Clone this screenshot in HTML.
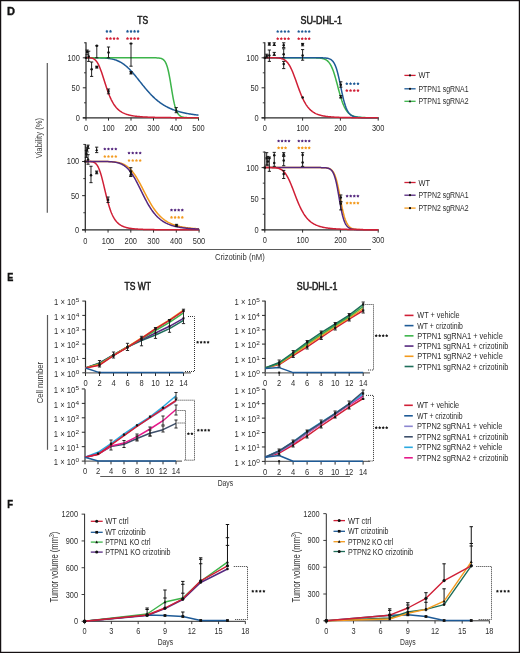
<!DOCTYPE html>
<html><head><meta charset="utf-8"><style>
html,body{margin:0;padding:0;background:#fff;width:520px;height:653px;overflow:hidden}
svg{display:block;font-family:"Liberation Sans", sans-serif;will-change:transform}
</style></head><body>
<svg width="520" height="653" viewBox="0 0 520 653">
<rect width="520" height="653" fill="#fff"/>
<rect x="0.6" y="0.6" width="518.8" height="651.8" fill="none" stroke="#151012" stroke-width="1.25"/>
<text x="7" y="14.9" font-size="10.6" font-weight="bold" fill="#111" textLength="8" lengthAdjust="spacingAndGlyphs" stroke="#111" stroke-width="0.35">D</text>
<text x="7.2" y="280.8" font-size="10.8" font-weight="bold" fill="#111" textLength="6.1" lengthAdjust="spacingAndGlyphs" stroke="#111" stroke-width="0.35">E</text>
<text x="7.2" y="507.9" font-size="10.6" font-weight="bold" fill="#111" textLength="5.8" lengthAdjust="spacingAndGlyphs" stroke="#111" stroke-width="0.35">F</text>
<line x1="86" y1="42.2" x2="86" y2="118.4" stroke="#2b2b2b" stroke-width="1.25" />
<line x1="82.8" y1="117.8" x2="199" y2="117.8" stroke="#2b2b2b" stroke-width="1.25" />
<line x1="82.8" y1="117.8" x2="86" y2="117.8" stroke="#2b2b2b" stroke-width="1.0" />
<text x="79.9" y="120.7" font-size="8.4" text-anchor="end" fill="#2e2e2e" textLength="4.15" lengthAdjust="spacingAndGlyphs" >0</text>
<line x1="82.8" y1="87.8" x2="86" y2="87.8" stroke="#2b2b2b" stroke-width="1.0" />
<text x="79.9" y="90.7" font-size="8.4" text-anchor="end" fill="#2e2e2e" textLength="8.3" lengthAdjust="spacingAndGlyphs" >50</text>
<line x1="82.8" y1="57.8" x2="86" y2="57.8" stroke="#2b2b2b" stroke-width="1.0" />
<text x="79.9" y="60.7" font-size="8.4" text-anchor="end" fill="#2e2e2e" textLength="12.45" lengthAdjust="spacingAndGlyphs" >100</text>
<line x1="84" y1="102.8" x2="86" y2="102.8" stroke="#2b2b2b" stroke-width="0.9" />
<line x1="84" y1="72.8" x2="86" y2="72.8" stroke="#2b2b2b" stroke-width="0.9" />
<line x1="84" y1="42.8" x2="86" y2="42.8" stroke="#2b2b2b" stroke-width="0.9" />
<line x1="86" y1="117.8" x2="86" y2="120.6" stroke="#2b2b2b" stroke-width="1.0" />
<text x="86" y="130.7" font-size="8.4" text-anchor="middle" fill="#2e2e2e" textLength="4.15" lengthAdjust="spacingAndGlyphs" >0</text>
<line x1="108.5" y1="117.8" x2="108.5" y2="120.6" stroke="#2b2b2b" stroke-width="1.0" />
<text x="108.5" y="130.7" font-size="8.4" text-anchor="middle" fill="#2e2e2e" textLength="12.45" lengthAdjust="spacingAndGlyphs" >100</text>
<line x1="131" y1="117.8" x2="131" y2="120.6" stroke="#2b2b2b" stroke-width="1.0" />
<text x="131" y="130.7" font-size="8.4" text-anchor="middle" fill="#2e2e2e" textLength="12.45" lengthAdjust="spacingAndGlyphs" >200</text>
<line x1="153.5" y1="117.8" x2="153.5" y2="120.6" stroke="#2b2b2b" stroke-width="1.0" />
<text x="153.5" y="130.7" font-size="8.4" text-anchor="middle" fill="#2e2e2e" textLength="12.45" lengthAdjust="spacingAndGlyphs" >300</text>
<line x1="176" y1="117.8" x2="176" y2="120.6" stroke="#2b2b2b" stroke-width="1.0" />
<text x="176" y="130.7" font-size="8.4" text-anchor="middle" fill="#2e2e2e" textLength="12.45" lengthAdjust="spacingAndGlyphs" >400</text>
<line x1="198.5" y1="117.8" x2="198.5" y2="120.6" stroke="#2b2b2b" stroke-width="1.0" />
<text x="198.5" y="130.7" font-size="8.4" text-anchor="middle" fill="#2e2e2e" textLength="12.45" lengthAdjust="spacingAndGlyphs" >500</text>
<polyline points="86,57.8 86.56,57.8 87.12,57.8 87.69,57.8 88.25,57.8 88.81,57.8 89.38,57.8 89.94,57.8 90.5,57.8 91.06,57.8 91.62,57.8 92.19,57.8 92.75,57.8 93.31,57.8 93.88,57.8 94.44,57.81 95,57.81 95.56,57.81 96.12,57.81 96.69,57.82 97.25,57.82 97.81,57.83 98.38,57.84 98.94,57.84 99.5,57.85 100.06,57.87 100.62,57.88 101.19,57.9 101.75,57.91 102.31,57.93 102.88,57.96 103.44,57.98 104,58.01 104.56,58.05 105.12,58.08 105.69,58.13 106.25,58.17 106.81,58.22 107.38,58.28 107.94,58.34 108.5,58.41 109.06,58.49 109.62,58.57 110.19,58.66 110.75,58.76 111.31,58.86 111.88,58.98 112.44,59.1 113,59.23 113.56,59.38 114.12,59.53 114.69,59.7 115.25,59.88 115.81,60.06 116.38,60.27 116.94,60.48 117.5,60.71 118.06,60.95 118.62,61.21 119.19,61.48 119.75,61.76 120.31,62.06 120.88,62.38 121.44,62.71 122,63.06 122.56,63.42 123.12,63.8 123.69,64.2 124.25,64.62 124.81,65.05 125.38,65.49 125.94,65.96 126.5,66.44 127.06,66.93 127.62,67.44 128.19,67.97 128.75,68.51 129.31,69.07 129.88,69.64 130.44,70.23 131,70.83 131.56,71.44 132.12,72.06 132.69,72.7 133.25,73.34 133.81,74 134.38,74.66 134.94,75.34 135.5,76.02 136.06,76.71 136.62,77.4 137.19,78.1 137.75,78.8 138.31,79.51 138.88,80.22 139.44,80.93 140,81.64 140.56,82.35 141.12,83.06 141.69,83.77 142.25,84.47 142.81,85.18 143.38,85.87 143.94,86.57 144.5,87.25 145.06,87.94 145.62,88.61 146.19,89.28 146.75,89.94 147.31,90.59 147.88,91.24 148.44,91.87 149,92.5 149.56,93.11 150.12,93.72 150.69,94.31 151.25,94.9 151.81,95.47 152.38,96.04 152.94,96.59 153.5,97.13 154.06,97.66 154.62,98.18 155.19,98.69 155.75,99.19 156.31,99.67 156.88,100.15 157.44,100.61 158,101.07 158.56,101.51 159.12,101.94 159.69,102.36 160.25,102.77 160.81,103.17 161.38,103.56 161.94,103.94 162.5,104.31 163.06,104.67 163.62,105.02 164.19,105.36 164.75,105.7 165.31,106.02 165.88,106.33 166.44,106.64 167,106.94 167.56,107.23 168.12,107.51 168.69,107.78 169.25,108.05 169.81,108.31 170.38,108.56 170.94,108.8 171.5,109.04 172.06,109.27 172.62,109.49 173.19,109.71 173.75,109.92 174.31,110.13 174.88,110.33 175.44,110.52 176,110.71 176.56,110.89 177.12,111.07 177.69,111.24 178.25,111.41 178.81,111.57 179.38,111.73 179.94,111.89 180.5,112.04 181.06,112.18 181.62,112.32 182.19,112.46 182.75,112.59 183.31,112.72 183.88,112.85 184.44,112.97 185,113.09 185.56,113.2 186.12,113.32 186.69,113.43 187.25,113.53 187.81,113.63 188.38,113.73 188.94,113.83 189.5,113.93 190.06,114.02 190.62,114.11 191.19,114.2 191.75,114.28 192.31,114.36 192.88,114.44 193.44,114.52 194,114.6 194.56,114.67 195.12,114.74 195.69,114.81 196.25,114.88 196.81,114.95 197.38,115.01 197.94,115.08 198.5,115.14" fill="none" stroke="#1e5a96" stroke-width="1.5" stroke-linejoin="round" />
<polyline points="86,57.8 86.56,57.8 87.12,57.8 87.69,57.8 88.25,57.8 88.81,57.8 89.38,57.8 89.94,57.8 90.5,57.8 91.06,57.8 91.62,57.8 92.19,57.8 92.75,57.8 93.31,57.8 93.88,57.8 94.44,57.8 95,57.8 95.56,57.8 96.12,57.8 96.69,57.8 97.25,57.8 97.81,57.8 98.38,57.8 98.94,57.8 99.5,57.8 100.06,57.8 100.62,57.8 101.19,57.8 101.75,57.8 102.31,57.8 102.88,57.8 103.44,57.8 104,57.8 104.56,57.8 105.12,57.8 105.69,57.8 106.25,57.8 106.81,57.8 107.38,57.8 107.94,57.8 108.5,57.8 109.06,57.8 109.62,57.8 110.19,57.8 110.75,57.8 111.31,57.8 111.88,57.8 112.44,57.8 113,57.8 113.56,57.8 114.12,57.8 114.69,57.8 115.25,57.8 115.81,57.8 116.38,57.8 116.94,57.8 117.5,57.8 118.06,57.8 118.62,57.8 119.19,57.8 119.75,57.8 120.31,57.8 120.88,57.8 121.44,57.8 122,57.8 122.56,57.8 123.12,57.8 123.69,57.8 124.25,57.8 124.81,57.8 125.38,57.8 125.94,57.8 126.5,57.8 127.06,57.8 127.62,57.8 128.19,57.8 128.75,57.8 129.31,57.8 129.88,57.8 130.44,57.8 131,57.8 131.56,57.8 132.12,57.8 132.69,57.8 133.25,57.8 133.81,57.8 134.38,57.8 134.94,57.8 135.5,57.8 136.06,57.8 136.62,57.8 137.19,57.8 137.75,57.8 138.31,57.8 138.88,57.8 139.44,57.8 140,57.8 140.56,57.8 141.12,57.8 141.69,57.8 142.25,57.8 142.81,57.8 143.38,57.8 143.94,57.8 144.5,57.8 145.06,57.8 145.62,57.8 146.19,57.8 146.75,57.8 147.31,57.8 147.88,57.8 148.44,57.8 149,57.8 149.56,57.8 150.12,57.8 150.69,57.8 151.25,57.8 151.81,57.81 152.38,57.81 152.94,57.81 153.5,57.82 154.06,57.82 154.62,57.83 155.19,57.84 155.75,57.85 156.31,57.87 156.88,57.89 157.44,57.92 158,57.95 158.56,58 159.12,58.06 159.69,58.14 160.25,58.25 160.81,58.38 161.38,58.55 161.94,58.77 162.5,59.05 163.06,59.41 163.62,59.86 164.19,60.43 164.75,61.14 165.31,62.01 165.88,63.09 166.44,64.4 167,65.98 167.56,67.84 168.12,70.02 168.69,72.51 169.25,75.3 169.81,78.36 170.38,81.63 170.94,85.03 171.5,88.49 172.06,91.91 172.62,95.2 173.19,98.29 173.75,101.13 174.31,103.68 174.88,105.94 175.44,107.9 176,109.59 176.56,111.01 177.12,112.21 177.69,113.21 178.25,114.04 178.81,114.72 179.38,115.29 179.94,115.75 180.5,116.12 181.06,116.43 181.62,116.68 182.19,116.89 182.75,117.05 183.31,117.19 183.88,117.3 184.44,117.39 185,117.46 185.56,117.52 186.12,117.57 186.69,117.61 187.25,117.65 187.81,117.67 188.38,117.7 188.94,117.71 189.5,117.73 190.06,117.74 190.62,117.75 191.19,117.76 191.75,117.77 192.31,117.77 192.88,117.78 193.44,117.78 194,117.78 194.56,117.79 195.12,117.79 195.69,117.79 196.25,117.79 196.81,117.79 197.38,117.79 197.94,117.8 198.5,117.8" fill="none" stroke="#3cb44a" stroke-width="1.5" stroke-linejoin="round" />
<polyline points="86,57.8 86.56,57.8 87.12,57.8 87.69,57.8 88.25,57.81 88.81,57.82 89.38,57.84 89.94,57.87 90.5,57.92 91.06,57.99 91.62,58.09 92.19,58.23 92.75,58.41 93.31,58.65 93.88,58.94 94.44,59.31 95,59.75 95.56,60.28 96.12,60.9 96.69,61.62 97.25,62.45 97.81,63.38 98.38,64.42 98.94,65.57 99.5,66.83 100.06,68.19 100.62,69.65 101.19,71.19 101.75,72.81 102.31,74.48 102.88,76.21 103.44,77.96 104,79.74 104.56,81.53 105.12,83.3 105.69,85.06 106.25,86.78 106.81,88.47 107.38,90.1 107.94,91.68 108.5,93.2 109.06,94.66 109.62,96.05 110.19,97.37 110.75,98.62 111.31,99.8 111.88,100.91 112.44,101.96 113,102.95 113.56,103.87 114.12,104.74 114.69,105.55 115.25,106.31 115.81,107.01 116.38,107.68 116.94,108.29 117.5,108.87 118.06,109.41 118.62,109.91 119.19,110.38 119.75,110.81 120.31,111.22 120.88,111.6 121.44,111.96 122,112.29 122.56,112.6 123.12,112.89 123.69,113.16 124.25,113.41 124.81,113.65 125.38,113.87 125.94,114.08 126.5,114.28 127.06,114.46 127.62,114.63 128.19,114.79 128.75,114.94 129.31,115.09 129.88,115.22 130.44,115.35 131,115.46 131.56,115.58 132.12,115.68 132.69,115.78 133.25,115.87 133.81,115.96 134.38,116.05 134.94,116.12 135.5,116.2 136.06,116.27 136.62,116.34 137.19,116.4 137.75,116.46 138.31,116.52 138.88,116.57 139.44,116.62 140,116.67 140.56,116.72 141.12,116.76 141.69,116.8 142.25,116.84 142.81,116.88 143.38,116.92 143.94,116.95 144.5,116.98 145.06,117.01 145.62,117.04 146.19,117.07 146.75,117.1 147.31,117.12 147.88,117.15 148.44,117.17 149,117.19 149.56,117.22 150.12,117.24 150.69,117.26 151.25,117.27 151.81,117.29 152.38,117.31 152.94,117.33 153.5,117.34 154.06,117.36 154.62,117.37 155.19,117.39 155.75,117.4 156.31,117.41 156.88,117.42 157.44,117.44 158,117.45 158.56,117.46 159.12,117.47 159.69,117.48 160.25,117.49 160.81,117.5 161.38,117.51 161.94,117.52 162.5,117.53 163.06,117.53 163.62,117.54 164.19,117.55 164.75,117.56 165.31,117.56 165.88,117.57 166.44,117.58 167,117.58 167.56,117.59 168.12,117.59 168.69,117.6 169.25,117.61 169.81,117.61 170.38,117.62 170.94,117.62 171.5,117.63 172.06,117.63 172.62,117.63 173.19,117.64 173.75,117.64 174.31,117.65 174.88,117.65 175.44,117.65 176,117.66 176.56,117.66 177.12,117.67 177.69,117.67 178.25,117.67 178.81,117.68 179.38,117.68 179.94,117.68 180.5,117.68 181.06,117.69 181.62,117.69 182.19,117.69 182.75,117.69 183.31,117.7 183.88,117.7 184.44,117.7 185,117.7 185.56,117.71 186.12,117.71 186.69,117.71 187.25,117.71 187.81,117.71 188.38,117.72 188.94,117.72 189.5,117.72 190.06,117.72 190.62,117.72 191.19,117.73 191.75,117.73 192.31,117.73 192.88,117.73 193.44,117.73 194,117.73 194.56,117.73 195.12,117.74 195.69,117.74 196.25,117.74 196.81,117.74 197.38,117.74 197.94,117.74 198.5,117.74" fill="none" stroke="#d01f36" stroke-width="1.5" stroke-linejoin="round" />
<rect x="84.85" y="56.65" width="2.3" height="2.3" fill="#111"/>
<line x1="87.12" y1="54.8" x2="87.12" y2="50" stroke="#151515" stroke-width="0.95" />
<line x1="85.53" y1="54.8" x2="88.72" y2="54.8" stroke="#151515" stroke-width="0.95" />
<line x1="85.53" y1="50" x2="88.72" y2="50" stroke="#151515" stroke-width="0.95" />
<rect x="85.97" y="50.65" width="2.3" height="2.3" fill="#111"/>
<line x1="88.7" y1="61.4" x2="88.7" y2="51.2" stroke="#151515" stroke-width="0.95" />
<line x1="87.1" y1="61.4" x2="90.3" y2="61.4" stroke="#151515" stroke-width="0.95" />
<line x1="87.1" y1="51.2" x2="90.3" y2="51.2" stroke="#151515" stroke-width="0.95" />
<circle cx="88.7" cy="56.6" r="1.25" fill="#111"/>
<line x1="91.62" y1="76.4" x2="91.62" y2="62" stroke="#151515" stroke-width="0.95" />
<line x1="90.03" y1="76.4" x2="93.22" y2="76.4" stroke="#151515" stroke-width="0.95" />
<line x1="90.03" y1="62" x2="93.22" y2="62" stroke="#151515" stroke-width="0.95" />
<circle cx="91.62" cy="69.2" r="1.25" fill="#111"/>
<line x1="96.8" y1="68" x2="96.8" y2="66.2" stroke="#151515" stroke-width="0.95" />
<line x1="95.2" y1="68" x2="98.4" y2="68" stroke="#151515" stroke-width="0.95" />
<line x1="95.2" y1="66.2" x2="98.4" y2="66.2" stroke="#151515" stroke-width="0.95" />
<rect x="95.65" y="65.95" width="2.3" height="2.3" fill="#111"/>
<line x1="96.8" y1="57.8" x2="96.8" y2="45.8" stroke="#151515" stroke-width="0.95" />
<line x1="95.2" y1="57.8" x2="98.4" y2="57.8" stroke="#151515" stroke-width="0.95" />
<line x1="95.2" y1="45.8" x2="98.4" y2="45.8" stroke="#151515" stroke-width="0.95" />
<circle cx="96.8" cy="45.8" r="1.25" fill="#111"/>
<line x1="108.5" y1="57.8" x2="108.5" y2="47" stroke="#151515" stroke-width="0.95" />
<line x1="106.9" y1="57.8" x2="110.1" y2="57.8" stroke="#151515" stroke-width="0.95" />
<line x1="106.9" y1="47" x2="110.1" y2="47" stroke="#151515" stroke-width="0.95" />
<circle cx="108.5" cy="52.4" r="1.25" fill="#111"/>
<line x1="108.5" y1="93.8" x2="108.5" y2="89" stroke="#151515" stroke-width="0.95" />
<line x1="106.9" y1="93.8" x2="110.1" y2="93.8" stroke="#151515" stroke-width="0.95" />
<line x1="106.9" y1="89" x2="110.1" y2="89" stroke="#151515" stroke-width="0.95" />
<rect x="107.35" y="90.25" width="2.3" height="2.3" fill="#111"/>
<line x1="131" y1="74" x2="131" y2="71.6" stroke="#151515" stroke-width="0.95" />
<line x1="129.4" y1="74" x2="132.6" y2="74" stroke="#151515" stroke-width="0.95" />
<line x1="129.4" y1="71.6" x2="132.6" y2="71.6" stroke="#151515" stroke-width="0.95" />
<rect x="129.85" y="71.65" width="2.3" height="2.3" fill="#111"/>
<line x1="131" y1="66.2" x2="131" y2="43.4" stroke="#151515" stroke-width="0.95" />
<line x1="129.4" y1="66.2" x2="132.6" y2="66.2" stroke="#151515" stroke-width="0.95" />
<line x1="129.4" y1="43.4" x2="132.6" y2="43.4" stroke="#151515" stroke-width="0.95" />
<polygon points="131,41.72 129.6,44.52 132.4,44.52" fill="#111"/>
<line x1="176.23" y1="112.7" x2="176.23" y2="107.6" stroke="#151515" stroke-width="0.95" />
<line x1="174.63" y1="112.7" x2="177.83" y2="112.7" stroke="#151515" stroke-width="0.95" />
<line x1="174.63" y1="107.6" x2="177.83" y2="107.6" stroke="#151515" stroke-width="0.95" />
<polygon points="176.23,108.62 174.83,111.42 177.63,111.42" fill="#111"/>
<text x="142.7" y="24" font-size="10.1" text-anchor="middle" fill="#1e1e1e" textLength="10.8" lengthAdjust="spacingAndGlyphs" stroke="#1e1e1e" stroke-width="0.55">TS</text>
<polygon points="106.9,29.8 107.48,30.6 108.42,30.91 107.84,31.71 107.84,32.69 106.9,32.39 105.96,32.69 105.96,31.71 105.38,30.91 106.32,30.6" fill="#1e5a96"/>
<polygon points="110.5,29.8 111.08,30.6 112.02,30.91 111.44,31.71 111.44,32.69 110.5,32.39 109.56,32.69 109.56,31.71 108.98,30.91 109.92,30.6" fill="#1e5a96"/>
<polygon points="127.5,29.8 128.08,30.6 129.02,30.91 128.44,31.71 128.44,32.69 127.5,32.39 126.56,32.69 126.56,31.71 125.98,30.91 126.92,30.6" fill="#1e5a96"/>
<polygon points="131.03,29.8 131.61,30.6 132.55,30.91 131.97,31.71 131.97,32.69 131.03,32.39 130.09,32.69 130.09,31.71 129.51,30.91 130.45,30.6" fill="#1e5a96"/>
<polygon points="134.56,29.8 135.14,30.6 136.08,30.91 135.5,31.71 135.5,32.69 134.56,32.39 133.62,32.69 133.62,31.71 133.04,30.91 133.98,30.6" fill="#1e5a96"/>
<polygon points="138.09,29.8 138.67,30.6 139.61,30.91 139.03,31.71 139.03,32.69 138.09,32.39 137.15,32.69 137.15,31.71 136.57,30.91 137.51,30.6" fill="#1e5a96"/>
<polygon points="106.9,37 107.48,37.8 108.42,38.11 107.84,38.91 107.84,39.89 106.9,39.59 105.96,39.89 105.96,38.91 105.38,38.11 106.32,37.8" fill="#d01f36"/>
<polygon points="110.47,37 111.05,37.8 111.99,38.11 111.41,38.91 111.41,39.89 110.47,39.59 109.53,39.89 109.53,38.91 108.95,38.11 109.89,37.8" fill="#d01f36"/>
<polygon points="114.04,37 114.62,37.8 115.56,38.11 114.98,38.91 114.98,39.89 114.04,39.59 113.1,39.89 113.1,38.91 112.52,38.11 113.46,37.8" fill="#d01f36"/>
<polygon points="117.61,37 118.19,37.8 119.13,38.11 118.55,38.91 118.55,39.89 117.61,39.59 116.67,39.89 116.67,38.91 116.09,38.11 117.03,37.8" fill="#d01f36"/>
<polygon points="127.5,37 128.08,37.8 129.02,38.11 128.44,38.91 128.44,39.89 127.5,39.59 126.56,39.89 126.56,38.91 125.98,38.11 126.92,37.8" fill="#d01f36"/>
<polygon points="131.03,37 131.61,37.8 132.55,38.11 131.97,38.91 131.97,39.89 131.03,39.59 130.09,39.89 130.09,38.91 129.51,38.11 130.45,37.8" fill="#d01f36"/>
<polygon points="134.56,37 135.14,37.8 136.08,38.11 135.5,38.91 135.5,39.89 134.56,39.59 133.62,39.89 133.62,38.91 133.04,38.11 133.98,37.8" fill="#d01f36"/>
<polygon points="138.09,37 138.67,37.8 139.61,38.11 139.03,38.91 139.03,39.89 138.09,39.59 137.15,39.89 137.15,38.91 136.57,38.11 137.51,37.8" fill="#d01f36"/>
<line x1="264.8" y1="42.2" x2="264.8" y2="118.4" stroke="#2b2b2b" stroke-width="1.25" />
<line x1="261.6" y1="117.8" x2="378.7" y2="117.8" stroke="#2b2b2b" stroke-width="1.25" />
<line x1="261.6" y1="117.8" x2="264.8" y2="117.8" stroke="#2b2b2b" stroke-width="1.0" />
<text x="258.7" y="120.7" font-size="8.4" text-anchor="end" fill="#2e2e2e" textLength="4.15" lengthAdjust="spacingAndGlyphs" >0</text>
<line x1="261.6" y1="87.8" x2="264.8" y2="87.8" stroke="#2b2b2b" stroke-width="1.0" />
<text x="258.7" y="90.7" font-size="8.4" text-anchor="end" fill="#2e2e2e" textLength="8.3" lengthAdjust="spacingAndGlyphs" >50</text>
<line x1="261.6" y1="57.8" x2="264.8" y2="57.8" stroke="#2b2b2b" stroke-width="1.0" />
<text x="258.7" y="60.7" font-size="8.4" text-anchor="end" fill="#2e2e2e" textLength="12.45" lengthAdjust="spacingAndGlyphs" >100</text>
<line x1="262.8" y1="102.8" x2="264.8" y2="102.8" stroke="#2b2b2b" stroke-width="0.9" />
<line x1="262.8" y1="72.8" x2="264.8" y2="72.8" stroke="#2b2b2b" stroke-width="0.9" />
<line x1="262.8" y1="42.8" x2="264.8" y2="42.8" stroke="#2b2b2b" stroke-width="0.9" />
<line x1="264.8" y1="117.8" x2="264.8" y2="120.6" stroke="#2b2b2b" stroke-width="1.0" />
<text x="264.8" y="130.7" font-size="8.4" text-anchor="middle" fill="#2e2e2e" textLength="4.15" lengthAdjust="spacingAndGlyphs" >0</text>
<line x1="302.6" y1="117.8" x2="302.6" y2="120.6" stroke="#2b2b2b" stroke-width="1.0" />
<text x="302.6" y="130.7" font-size="8.4" text-anchor="middle" fill="#2e2e2e" textLength="12.45" lengthAdjust="spacingAndGlyphs" >100</text>
<line x1="340.4" y1="117.8" x2="340.4" y2="120.6" stroke="#2b2b2b" stroke-width="1.0" />
<text x="340.4" y="130.7" font-size="8.4" text-anchor="middle" fill="#2e2e2e" textLength="12.45" lengthAdjust="spacingAndGlyphs" >200</text>
<line x1="378.2" y1="117.8" x2="378.2" y2="120.6" stroke="#2b2b2b" stroke-width="1.0" />
<text x="378.2" y="130.7" font-size="8.4" text-anchor="middle" fill="#2e2e2e" textLength="12.45" lengthAdjust="spacingAndGlyphs" >300</text>
<polyline points="264.8,57.8 265.37,57.8 265.93,57.8 266.5,57.8 267.07,57.8 267.63,57.8 268.2,57.8 268.77,57.8 269.34,57.8 269.9,57.8 270.47,57.8 271.04,57.8 271.6,57.8 272.17,57.8 272.74,57.8 273.31,57.8 273.87,57.8 274.44,57.8 275.01,57.8 275.57,57.8 276.14,57.8 276.71,57.8 277.27,57.8 277.84,57.8 278.41,57.8 278.98,57.8 279.54,57.8 280.11,57.8 280.68,57.8 281.24,57.8 281.81,57.8 282.38,57.8 282.94,57.8 283.51,57.8 284.08,57.8 284.64,57.8 285.21,57.8 285.78,57.8 286.35,57.8 286.91,57.8 287.48,57.8 288.05,57.8 288.61,57.8 289.18,57.8 289.75,57.8 290.31,57.8 290.88,57.8 291.45,57.8 292.02,57.8 292.58,57.8 293.15,57.8 293.72,57.8 294.28,57.8 294.85,57.8 295.42,57.8 295.99,57.8 296.55,57.8 297.12,57.8 297.69,57.8 298.25,57.8 298.82,57.8 299.39,57.8 299.95,57.8 300.52,57.8 301.09,57.8 301.66,57.8 302.22,57.8 302.79,57.8 303.36,57.8 303.92,57.8 304.49,57.8 305.06,57.8 305.62,57.8 306.19,57.8 306.76,57.8 307.32,57.8 307.89,57.8 308.46,57.8 309.03,57.81 309.59,57.81 310.16,57.81 310.73,57.81 311.29,57.81 311.86,57.82 312.43,57.82 313,57.83 313.56,57.83 314.13,57.84 314.7,57.85 315.26,57.86 315.83,57.87 316.4,57.89 316.96,57.91 317.53,57.93 318.1,57.96 318.67,58 319.23,58.04 319.8,58.09 320.37,58.15 320.93,58.22 321.5,58.31 322.07,58.41 322.63,58.53 323.2,58.68 323.77,58.84 324.34,59.04 324.9,59.28 325.47,59.55 326.04,59.86 326.6,60.23 327.17,60.66 327.74,61.15 328.3,61.72 328.87,62.36 329.44,63.1 330,63.93 330.57,64.87 331.14,65.92 331.71,67.09 332.27,68.39 332.84,69.81 333.41,71.35 333.97,73.01 334.54,74.79 335.11,76.67 335.68,78.64 336.24,80.69 336.81,82.8 337.38,84.93 337.94,87.08 338.51,89.23 339.08,91.34 339.64,93.4 340.21,95.39 340.78,97.3 341.35,99.11 341.91,100.82 342.48,102.42 343.05,103.91 343.61,105.29 344.18,106.55 344.75,107.7 345.31,108.75 345.88,109.71 346.45,110.57 347.01,111.34 347.58,112.04 348.15,112.66 348.72,113.22 349.28,113.72 349.85,114.17 350.42,114.57 350.98,114.92 351.55,115.24 352.12,115.52 352.69,115.76 353.25,115.99 353.82,116.18 354.39,116.36 354.95,116.51 355.52,116.65 356.09,116.77 356.65,116.88 357.22,116.98 357.79,117.07 358.36,117.14 358.92,117.21 359.49,117.27 360.06,117.33 360.62,117.38 361.19,117.42 361.76,117.46 362.32,117.49 362.89,117.53 363.46,117.55 364.02,117.58 364.59,117.6 365.16,117.62 365.73,117.64 366.29,117.65 366.86,117.67 367.43,117.68 367.99,117.69 368.56,117.7 369.13,117.71 369.69,117.72 370.26,117.73 370.83,117.73 371.4,117.74 371.96,117.75 372.53,117.75 373.1,117.76 373.66,117.76 374.23,117.76 374.8,117.77 375.37,117.77 375.93,117.77 376.5,117.78 377.07,117.78 377.63,117.78 378.2,117.78" fill="none" stroke="#3cb44a" stroke-width="1.5" stroke-linejoin="round" />
<polyline points="264.8,57.8 265.37,57.8 265.93,57.8 266.5,57.8 267.07,57.8 267.63,57.8 268.2,57.8 268.77,57.8 269.34,57.8 269.9,57.8 270.47,57.8 271.04,57.8 271.6,57.8 272.17,57.8 272.74,57.8 273.31,57.8 273.87,57.8 274.44,57.8 275.01,57.8 275.57,57.8 276.14,57.8 276.71,57.8 277.27,57.8 277.84,57.8 278.41,57.8 278.98,57.8 279.54,57.8 280.11,57.8 280.68,57.8 281.24,57.8 281.81,57.8 282.38,57.8 282.94,57.8 283.51,57.8 284.08,57.8 284.64,57.8 285.21,57.8 285.78,57.8 286.35,57.8 286.91,57.8 287.48,57.8 288.05,57.8 288.61,57.8 289.18,57.8 289.75,57.8 290.31,57.8 290.88,57.8 291.45,57.8 292.02,57.8 292.58,57.8 293.15,57.8 293.72,57.8 294.28,57.8 294.85,57.8 295.42,57.8 295.99,57.8 296.55,57.8 297.12,57.8 297.69,57.8 298.25,57.8 298.82,57.8 299.39,57.8 299.95,57.8 300.52,57.8 301.09,57.8 301.66,57.8 302.22,57.8 302.79,57.8 303.36,57.8 303.92,57.8 304.49,57.8 305.06,57.8 305.62,57.8 306.19,57.8 306.76,57.8 307.32,57.8 307.89,57.8 308.46,57.8 309.03,57.8 309.59,57.8 310.16,57.8 310.73,57.8 311.29,57.8 311.86,57.8 312.43,57.8 313,57.8 313.56,57.8 314.13,57.8 314.7,57.8 315.26,57.8 315.83,57.8 316.4,57.8 316.96,57.81 317.53,57.81 318.1,57.81 318.67,57.81 319.23,57.82 319.8,57.82 320.37,57.83 320.93,57.83 321.5,57.84 322.07,57.85 322.63,57.87 323.2,57.89 323.77,57.91 324.34,57.94 324.9,57.98 325.47,58.02 326.04,58.08 326.6,58.15 327.17,58.24 327.74,58.34 328.3,58.48 328.87,58.64 329.44,58.84 330,59.08 330.57,59.38 331.14,59.74 331.71,60.17 332.27,60.7 332.84,61.32 333.41,62.06 333.97,62.93 334.54,63.96 335.11,65.15 335.68,66.52 336.24,68.09 336.81,69.85 337.38,71.82 337.94,73.98 338.51,76.32 339.08,78.81 339.64,81.43 340.21,84.14 340.78,86.88 341.35,89.62 341.91,92.32 342.48,94.92 343.05,97.39 343.61,99.71 344.18,101.86 344.75,103.82 345.31,105.6 345.88,107.19 346.45,108.61 347.01,109.85 347.58,110.95 348.15,111.9 348.72,112.73 349.28,113.45 349.85,114.07 350.42,114.6 350.98,115.06 351.55,115.45 352.12,115.79 352.69,116.08 353.25,116.32 353.82,116.53 354.39,116.71 354.95,116.87 355.52,117 356.09,117.11 356.65,117.21 357.22,117.29 357.79,117.36 358.36,117.42 358.92,117.47 359.49,117.52 360.06,117.56 360.62,117.59 361.19,117.62 361.76,117.64 362.32,117.66 362.89,117.68 363.46,117.7 364.02,117.71 364.59,117.72 365.16,117.73 365.73,117.74 366.29,117.75 366.86,117.76 367.43,117.76 367.99,117.77 368.56,117.77 369.13,117.77 369.69,117.78 370.26,117.78 370.83,117.78 371.4,117.78 371.96,117.79 372.53,117.79 373.1,117.79 373.66,117.79 374.23,117.79 374.8,117.79 375.37,117.79 375.93,117.79 376.5,117.8 377.07,117.8 377.63,117.8 378.2,117.8" fill="none" stroke="#1e5a96" stroke-width="1.5" stroke-linejoin="round" />
<polyline points="264.8,57.8 265.37,57.8 265.93,57.8 266.5,57.8 267.07,57.8 267.63,57.8 268.2,57.8 268.77,57.8 269.34,57.8 269.9,57.8 270.47,57.8 271.04,57.8 271.6,57.8 272.17,57.8 272.74,57.81 273.31,57.81 273.87,57.82 274.44,57.83 275.01,57.84 275.57,57.85 276.14,57.87 276.71,57.9 277.27,57.93 277.84,57.97 278.41,58.02 278.98,58.08 279.54,58.16 280.11,58.25 280.68,58.36 281.24,58.5 281.81,58.66 282.38,58.85 282.94,59.08 283.51,59.34 284.08,59.64 284.64,59.99 285.21,60.39 285.78,60.85 286.35,61.36 286.91,61.94 287.48,62.59 288.05,63.31 288.61,64.1 289.18,64.98 289.75,65.93 290.31,66.96 290.88,68.06 291.45,69.25 292.02,70.51 292.58,71.83 293.15,73.23 293.72,74.67 294.28,76.17 294.85,77.71 295.42,79.28 295.99,80.87 296.55,82.48 297.12,84.09 297.69,85.69 298.25,87.28 298.82,88.84 299.39,90.37 299.95,91.86 300.52,93.31 301.09,94.71 301.66,96.06 302.22,97.36 302.79,98.6 303.36,99.77 303.92,100.9 304.49,101.96 305.06,102.96 305.62,103.91 306.19,104.8 306.76,105.64 307.32,106.43 307.89,107.16 308.46,107.85 309.03,108.5 309.59,109.1 310.16,109.67 310.73,110.19 311.29,110.69 311.86,111.14 312.43,111.57 313,111.97 313.56,112.34 314.13,112.68 314.7,113.01 315.26,113.31 315.83,113.59 316.4,113.85 316.96,114.09 317.53,114.32 318.1,114.53 318.67,114.72 319.23,114.91 319.8,115.08 320.37,115.24 320.93,115.39 321.5,115.53 322.07,115.66 322.63,115.78 323.2,115.9 323.77,116.01 324.34,116.11 324.9,116.2 325.47,116.29 326.04,116.37 326.6,116.45 327.17,116.52 327.74,116.59 328.3,116.65 328.87,116.71 329.44,116.77 330,116.82 330.57,116.87 331.14,116.92 331.71,116.97 332.27,117.01 332.84,117.05 333.41,117.09 333.97,117.12 334.54,117.15 335.11,117.18 335.68,117.21 336.24,117.24 336.81,117.27 337.38,117.29 337.94,117.32 338.51,117.34 339.08,117.36 339.64,117.38 340.21,117.4 340.78,117.42 341.35,117.44 341.91,117.45 342.48,117.47 343.05,117.48 343.61,117.5 344.18,117.51 344.75,117.52 345.31,117.53 345.88,117.54 346.45,117.56 347.01,117.57 347.58,117.58 348.15,117.58 348.72,117.59 349.28,117.6 349.85,117.61 350.42,117.62 350.98,117.62 351.55,117.63 352.12,117.64 352.69,117.64 353.25,117.65 353.82,117.66 354.39,117.66 354.95,117.67 355.52,117.67 356.09,117.68 356.65,117.68 357.22,117.69 357.79,117.69 358.36,117.69 358.92,117.7 359.49,117.7 360.06,117.71 360.62,117.71 361.19,117.71 361.76,117.72 362.32,117.72 362.89,117.72 363.46,117.72 364.02,117.73 364.59,117.73 365.16,117.73 365.73,117.73 366.29,117.74 366.86,117.74 367.43,117.74 367.99,117.74 368.56,117.74 369.13,117.75 369.69,117.75 370.26,117.75 370.83,117.75 371.4,117.75 371.96,117.75 372.53,117.76 373.1,117.76 373.66,117.76 374.23,117.76 374.8,117.76 375.37,117.76 375.93,117.76 376.5,117.76 377.07,117.77 377.63,117.77 378.2,117.77" fill="none" stroke="#d01f36" stroke-width="1.5" stroke-linejoin="round" />
<rect x="263.65" y="56.65" width="2.3" height="2.3" fill="#111"/>
<line x1="266.69" y1="57.8" x2="266.69" y2="54.2" stroke="#151515" stroke-width="0.95" />
<line x1="265.09" y1="57.8" x2="268.29" y2="57.8" stroke="#151515" stroke-width="0.95" />
<line x1="265.09" y1="54.2" x2="268.29" y2="54.2" stroke="#151515" stroke-width="0.95" />
<rect x="265.54" y="54.85" width="2.3" height="2.3" fill="#111"/>
<line x1="269.34" y1="45.2" x2="269.34" y2="42.8" stroke="#151515" stroke-width="0.95" />
<line x1="267.74" y1="45.2" x2="270.94" y2="45.2" stroke="#151515" stroke-width="0.95" />
<line x1="267.74" y1="42.8" x2="270.94" y2="42.8" stroke="#151515" stroke-width="0.95" />
<circle cx="269.34" cy="44" r="1.25" fill="#111"/>
<line x1="269.34" y1="61.4" x2="269.34" y2="50" stroke="#151515" stroke-width="0.95" />
<line x1="267.74" y1="61.4" x2="270.94" y2="61.4" stroke="#151515" stroke-width="0.95" />
<line x1="267.74" y1="50" x2="270.94" y2="50" stroke="#151515" stroke-width="0.95" />
<circle cx="269.34" cy="55.4" r="1.25" fill="#111"/>
<line x1="274.25" y1="45.5" x2="274.25" y2="42.8" stroke="#151515" stroke-width="0.95" />
<line x1="272.65" y1="45.5" x2="275.85" y2="45.5" stroke="#151515" stroke-width="0.95" />
<line x1="272.65" y1="42.8" x2="275.85" y2="42.8" stroke="#151515" stroke-width="0.95" />
<polygon points="274.25,42.62 272.85,45.42 275.65,45.42" fill="#111"/>
<line x1="274.25" y1="55.4" x2="274.25" y2="52.4" stroke="#151515" stroke-width="0.95" />
<line x1="272.65" y1="55.4" x2="275.85" y2="55.4" stroke="#151515" stroke-width="0.95" />
<line x1="272.65" y1="52.4" x2="275.85" y2="52.4" stroke="#151515" stroke-width="0.95" />
<polygon points="274.25,52.52 272.85,55.32 275.65,55.32" fill="#111"/>
<line x1="283.7" y1="47.6" x2="283.7" y2="42.8" stroke="#151515" stroke-width="0.95" />
<line x1="282.1" y1="47.6" x2="285.3" y2="47.6" stroke="#151515" stroke-width="0.95" />
<line x1="282.1" y1="42.8" x2="285.3" y2="42.8" stroke="#151515" stroke-width="0.95" />
<circle cx="283.7" cy="45.2" r="1.25" fill="#111"/>
<line x1="283.7" y1="57.8" x2="283.7" y2="48.8" stroke="#151515" stroke-width="0.95" />
<line x1="282.1" y1="57.8" x2="285.3" y2="57.8" stroke="#151515" stroke-width="0.95" />
<line x1="282.1" y1="48.8" x2="285.3" y2="48.8" stroke="#151515" stroke-width="0.95" />
<circle cx="283.7" cy="54.2" r="1.25" fill="#111"/>
<line x1="283.7" y1="68.6" x2="283.7" y2="61.4" stroke="#151515" stroke-width="0.95" />
<line x1="282.1" y1="68.6" x2="285.3" y2="68.6" stroke="#151515" stroke-width="0.95" />
<line x1="282.1" y1="61.4" x2="285.3" y2="61.4" stroke="#151515" stroke-width="0.95" />
<circle cx="283.7" cy="63.98" r="1.25" fill="#111"/>
<line x1="302.6" y1="45.8" x2="302.6" y2="43.4" stroke="#151515" stroke-width="0.95" />
<line x1="301" y1="45.8" x2="304.2" y2="45.8" stroke="#151515" stroke-width="0.95" />
<line x1="301" y1="43.4" x2="304.2" y2="43.4" stroke="#151515" stroke-width="0.95" />
<circle cx="302.6" cy="44.3" r="1.25" fill="#111"/>
<line x1="302.6" y1="60.2" x2="302.6" y2="49.58" stroke="#151515" stroke-width="0.95" />
<line x1="301" y1="60.2" x2="304.2" y2="60.2" stroke="#151515" stroke-width="0.95" />
<line x1="301" y1="49.58" x2="304.2" y2="49.58" stroke="#151515" stroke-width="0.95" />
<circle cx="302.6" cy="55.4" r="1.25" fill="#111"/>
<circle cx="302.71" cy="97.58" r="1.25" fill="#111"/>
<line x1="340.78" y1="87.2" x2="340.78" y2="81.8" stroke="#151515" stroke-width="0.95" />
<line x1="339.18" y1="87.2" x2="342.38" y2="87.2" stroke="#151515" stroke-width="0.95" />
<line x1="339.18" y1="81.8" x2="342.38" y2="81.8" stroke="#151515" stroke-width="0.95" />
<circle cx="340.78" cy="84.8" r="1.25" fill="#111"/>
<line x1="340.78" y1="98" x2="340.78" y2="95.6" stroke="#151515" stroke-width="0.95" />
<line x1="339.18" y1="98" x2="342.38" y2="98" stroke="#151515" stroke-width="0.95" />
<line x1="339.18" y1="95.6" x2="342.38" y2="95.6" stroke="#151515" stroke-width="0.95" />
<polygon points="340.78,95.12 339.38,97.92 342.18,97.92" fill="#111"/>
<text x="321.2" y="24.1" font-size="10.1" text-anchor="middle" fill="#1e1e1e" textLength="41.4" lengthAdjust="spacingAndGlyphs" stroke="#1e1e1e" stroke-width="0.55">SU-DHL-1</text>
<polygon points="277.7,29.9 278.28,30.7 279.22,31.01 278.64,31.81 278.64,32.79 277.7,32.49 276.76,32.79 276.76,31.81 276.18,31.01 277.12,30.7" fill="#1e5a96"/>
<polygon points="281.3,29.9 281.88,30.7 282.82,31.01 282.24,31.81 282.24,32.79 281.3,32.49 280.36,32.79 280.36,31.81 279.78,31.01 280.72,30.7" fill="#1e5a96"/>
<polygon points="284.9,29.9 285.48,30.7 286.42,31.01 285.84,31.81 285.84,32.79 284.9,32.49 283.96,32.79 283.96,31.81 283.38,31.01 284.32,30.7" fill="#1e5a96"/>
<polygon points="288.5,29.9 289.08,30.7 290.02,31.01 289.44,31.81 289.44,32.79 288.5,32.49 287.56,32.79 287.56,31.81 286.98,31.01 287.92,30.7" fill="#1e5a96"/>
<polygon points="298.7,29.9 299.28,30.7 300.22,31.01 299.64,31.81 299.64,32.79 298.7,32.49 297.76,32.79 297.76,31.81 297.18,31.01 298.12,30.7" fill="#1e5a96"/>
<polygon points="302.2,29.9 302.78,30.7 303.72,31.01 303.14,31.81 303.14,32.79 302.2,32.49 301.26,32.79 301.26,31.81 300.68,31.01 301.62,30.7" fill="#1e5a96"/>
<polygon points="305.7,29.9 306.28,30.7 307.22,31.01 306.64,31.81 306.64,32.79 305.7,32.49 304.76,32.79 304.76,31.81 304.18,31.01 305.12,30.7" fill="#1e5a96"/>
<polygon points="309.2,29.9 309.78,30.7 310.72,31.01 310.14,31.81 310.14,32.79 309.2,32.49 308.26,32.79 308.26,31.81 307.68,31.01 308.62,30.7" fill="#1e5a96"/>
<polygon points="277.7,37.1 278.28,37.9 279.22,38.21 278.64,39.01 278.64,39.99 277.7,39.69 276.76,39.99 276.76,39.01 276.18,38.21 277.12,37.9" fill="#d01f36"/>
<polygon points="281.3,37.1 281.88,37.9 282.82,38.21 282.24,39.01 282.24,39.99 281.3,39.69 280.36,39.99 280.36,39.01 279.78,38.21 280.72,37.9" fill="#d01f36"/>
<polygon points="284.9,37.1 285.48,37.9 286.42,38.21 285.84,39.01 285.84,39.99 284.9,39.69 283.96,39.99 283.96,39.01 283.38,38.21 284.32,37.9" fill="#d01f36"/>
<polygon points="288.5,37.1 289.08,37.9 290.02,38.21 289.44,39.01 289.44,39.99 288.5,39.69 287.56,39.99 287.56,39.01 286.98,38.21 287.92,37.9" fill="#d01f36"/>
<polygon points="298.7,37.1 299.28,37.9 300.22,38.21 299.64,39.01 299.64,39.99 298.7,39.69 297.76,39.99 297.76,39.01 297.18,38.21 298.12,37.9" fill="#d01f36"/>
<polygon points="302.2,37.1 302.78,37.9 303.72,38.21 303.14,39.01 303.14,39.99 302.2,39.69 301.26,39.99 301.26,39.01 300.68,38.21 301.62,37.9" fill="#d01f36"/>
<polygon points="305.7,37.1 306.28,37.9 307.22,38.21 306.64,39.01 306.64,39.99 305.7,39.69 304.76,39.99 304.76,39.01 304.18,38.21 305.12,37.9" fill="#d01f36"/>
<polygon points="309.2,37.1 309.78,37.9 310.72,38.21 310.14,39.01 310.14,39.99 309.2,39.69 308.26,39.99 308.26,39.01 307.68,38.21 308.62,37.9" fill="#d01f36"/>
<polygon points="346.8,82.1 347.38,82.9 348.32,83.21 347.74,84.01 347.74,84.99 346.8,84.69 345.86,84.99 345.86,84.01 345.28,83.21 346.22,82.9" fill="#1e5a96"/>
<polygon points="350.53,82.1 351.11,82.9 352.05,83.21 351.47,84.01 351.47,84.99 350.53,84.69 349.59,84.99 349.59,84.01 349.01,83.21 349.95,82.9" fill="#1e5a96"/>
<polygon points="354.26,82.1 354.84,82.9 355.78,83.21 355.2,84.01 355.2,84.99 354.26,84.69 353.32,84.99 353.32,84.01 352.74,83.21 353.68,82.9" fill="#1e5a96"/>
<polygon points="357.99,82.1 358.57,82.9 359.51,83.21 358.93,84.01 358.93,84.99 357.99,84.69 357.05,84.99 357.05,84.01 356.47,83.21 357.41,82.9" fill="#1e5a96"/>
<polygon points="346.8,89 347.38,89.8 348.32,90.11 347.74,90.91 347.74,91.89 346.8,91.59 345.86,91.89 345.86,90.91 345.28,90.11 346.22,89.8" fill="#d01f36"/>
<polygon points="350.53,89 351.11,89.8 352.05,90.11 351.47,90.91 351.47,91.89 350.53,91.59 349.59,91.89 349.59,90.91 349.01,90.11 349.95,89.8" fill="#d01f36"/>
<polygon points="354.26,89 354.84,89.8 355.78,90.11 355.2,90.91 355.2,91.89 354.26,91.59 353.32,91.89 353.32,90.91 352.74,90.11 353.68,89.8" fill="#d01f36"/>
<polygon points="357.99,89 358.57,89.8 359.51,90.11 358.93,90.91 358.93,91.89 357.99,91.59 357.05,91.89 357.05,90.91 356.47,90.11 357.41,89.8" fill="#d01f36"/>
<line x1="404.4" y1="75.4" x2="415.6" y2="75.4" stroke="#d01f36" stroke-width="1.3" />
<circle cx="410" cy="75.4" r="1.1" fill="#111"/>
<text x="418.5" y="78.4" font-size="8.5" fill="#2a2a2a" textLength="11.5" lengthAdjust="spacingAndGlyphs" >WT</text>
<line x1="404.4" y1="88.8" x2="415.6" y2="88.8" stroke="#1e5a96" stroke-width="1.3" />
<circle cx="410" cy="88.8" r="1.1" fill="#111"/>
<text x="418.5" y="91.8" font-size="8.5" fill="#2a2a2a" textLength="50" lengthAdjust="spacingAndGlyphs" >PTPN1 sgRNA1</text>
<line x1="404.4" y1="101.3" x2="415.6" y2="101.3" stroke="#3cb44a" stroke-width="1.3" />
<polygon points="410,99.86 408.8,102.26 411.2,102.26" fill="#111"/>
<text x="418.5" y="104.3" font-size="8.5" fill="#2a2a2a" textLength="50" lengthAdjust="spacingAndGlyphs" >PTPN1 sgRNA2</text>
<line x1="85.3" y1="144" x2="85.3" y2="230.4" stroke="#2b2b2b" stroke-width="1.25" />
<line x1="82.1" y1="229.8" x2="199.55" y2="229.8" stroke="#2b2b2b" stroke-width="1.25" />
<line x1="82.1" y1="229.8" x2="85.3" y2="229.8" stroke="#2b2b2b" stroke-width="1.0" />
<text x="79.2" y="232.7" font-size="8.4" text-anchor="end" fill="#2e2e2e" textLength="4.15" lengthAdjust="spacingAndGlyphs" >0</text>
<line x1="82.1" y1="195.65" x2="85.3" y2="195.65" stroke="#2b2b2b" stroke-width="1.0" />
<text x="79.2" y="198.55" font-size="8.4" text-anchor="end" fill="#2e2e2e" textLength="8.3" lengthAdjust="spacingAndGlyphs" >50</text>
<line x1="82.1" y1="161.5" x2="85.3" y2="161.5" stroke="#2b2b2b" stroke-width="1.0" />
<text x="79.2" y="164.4" font-size="8.4" text-anchor="end" fill="#2e2e2e" textLength="12.45" lengthAdjust="spacingAndGlyphs" >100</text>
<line x1="83.3" y1="212.73" x2="85.3" y2="212.73" stroke="#2b2b2b" stroke-width="0.9" />
<line x1="83.3" y1="178.58" x2="85.3" y2="178.58" stroke="#2b2b2b" stroke-width="0.9" />
<line x1="83.3" y1="144.43" x2="85.3" y2="144.43" stroke="#2b2b2b" stroke-width="0.9" />
<line x1="85.3" y1="229.8" x2="85.3" y2="232.6" stroke="#2b2b2b" stroke-width="1.0" />
<text x="85.3" y="243.7" font-size="8.4" text-anchor="middle" fill="#2e2e2e" textLength="4.15" lengthAdjust="spacingAndGlyphs" >0</text>
<line x1="108.05" y1="229.8" x2="108.05" y2="232.6" stroke="#2b2b2b" stroke-width="1.0" />
<text x="108.05" y="243.7" font-size="8.4" text-anchor="middle" fill="#2e2e2e" textLength="12.45" lengthAdjust="spacingAndGlyphs" >100</text>
<line x1="130.8" y1="229.8" x2="130.8" y2="232.6" stroke="#2b2b2b" stroke-width="1.0" />
<text x="130.8" y="243.7" font-size="8.4" text-anchor="middle" fill="#2e2e2e" textLength="12.45" lengthAdjust="spacingAndGlyphs" >200</text>
<line x1="153.55" y1="229.8" x2="153.55" y2="232.6" stroke="#2b2b2b" stroke-width="1.0" />
<text x="153.55" y="243.7" font-size="8.4" text-anchor="middle" fill="#2e2e2e" textLength="12.45" lengthAdjust="spacingAndGlyphs" >300</text>
<line x1="176.3" y1="229.8" x2="176.3" y2="232.6" stroke="#2b2b2b" stroke-width="1.0" />
<text x="176.3" y="243.7" font-size="8.4" text-anchor="middle" fill="#2e2e2e" textLength="12.45" lengthAdjust="spacingAndGlyphs" >400</text>
<line x1="199.05" y1="229.8" x2="199.05" y2="232.6" stroke="#2b2b2b" stroke-width="1.0" />
<text x="199.05" y="243.7" font-size="8.4" text-anchor="middle" fill="#2e2e2e" textLength="12.45" lengthAdjust="spacingAndGlyphs" >500</text>
<polyline points="85.3,161.5 85.87,161.5 86.44,161.5 87.01,161.5 87.58,161.5 88.14,161.5 88.71,161.5 89.28,161.5 89.85,161.5 90.42,161.5 90.99,161.5 91.56,161.5 92.12,161.5 92.69,161.5 93.26,161.5 93.83,161.5 94.4,161.5 94.97,161.5 95.54,161.5 96.11,161.5 96.67,161.5 97.24,161.5 97.81,161.5 98.38,161.5 98.95,161.5 99.52,161.5 100.09,161.5 100.66,161.51 101.22,161.51 101.79,161.51 102.36,161.51 102.93,161.51 103.5,161.52 104.07,161.52 104.64,161.53 105.21,161.53 105.78,161.54 106.34,161.55 106.91,161.56 107.48,161.57 108.05,161.58 108.62,161.6 109.19,161.62 109.76,161.64 110.33,161.66 110.89,161.69 111.46,161.72 112.03,161.75 112.6,161.79 113.17,161.83 113.74,161.88 114.31,161.93 114.88,162 115.44,162.06 116.01,162.14 116.58,162.22 117.15,162.32 117.72,162.42 118.29,162.53 118.86,162.66 119.42,162.79 119.99,162.95 120.56,163.11 121.13,163.29 121.7,163.49 122.27,163.7 122.84,163.93 123.41,164.19 123.97,164.46 124.54,164.75 125.11,165.07 125.68,165.41 126.25,165.77 126.82,166.17 127.39,166.58 127.96,167.03 128.53,167.51 129.09,168.01 129.66,168.55 130.23,169.11 130.8,169.71 131.37,170.34 131.94,171 132.51,171.7 133.07,172.43 133.64,173.19 134.21,173.98 134.78,174.8 135.35,175.65 135.92,176.53 136.49,177.44 137.06,178.38 137.62,179.34 138.19,180.33 138.76,181.33 139.33,182.36 139.9,183.41 140.47,184.47 141.04,185.54 141.61,186.63 142.18,187.72 142.74,188.83 143.31,189.93 143.88,191.04 144.45,192.14 145.02,193.25 145.59,194.34 146.16,195.43 146.72,196.51 147.29,197.58 147.86,198.64 148.43,199.68 149,200.7 149.57,201.7 150.14,202.69 150.71,203.65 151.28,204.6 151.84,205.52 152.41,206.42 152.98,207.29 153.55,208.14 154.12,208.97 154.69,209.77 155.26,210.54 155.82,211.3 156.39,212.02 156.96,212.73 157.53,213.41 158.1,214.06 158.67,214.69 159.24,215.3 159.81,215.89 160.38,216.45 160.94,216.99 161.51,217.52 162.08,218.02 162.65,218.5 163.22,218.96 163.79,219.4 164.36,219.83 164.93,220.24 165.49,220.63 166.06,221 166.63,221.36 167.2,221.71 167.77,222.04 168.34,222.35 168.91,222.66 169.47,222.94 170.04,223.22 170.61,223.49 171.18,223.74 171.75,223.98 172.32,224.22 172.89,224.44 173.46,224.65 174.03,224.86 174.59,225.05 175.16,225.24 175.73,225.42 176.3,225.59 176.87,225.76 177.44,225.91 178.01,226.06 178.57,226.21 179.14,226.35 179.71,226.48 180.28,226.61 180.85,226.73 181.42,226.84 181.99,226.95 182.56,227.06 183.12,227.16 183.69,227.26 184.26,227.36 184.83,227.45 185.4,227.53 185.97,227.62 186.54,227.69 187.11,227.77 187.68,227.84 188.24,227.91 188.81,227.98 189.38,228.05 189.95,228.11 190.52,228.17 191.09,228.23 191.66,228.28 192.22,228.33 192.79,228.39 193.36,228.43 193.93,228.48 194.5,228.53 195.07,228.57 195.64,228.61 196.21,228.65 196.78,228.69 197.34,228.73 197.91,228.76 198.48,228.8 199.05,228.83" fill="none" stroke="#f39a1e" stroke-width="1.5" stroke-linejoin="round" />
<polyline points="85.3,161.5 85.87,161.5 86.44,161.5 87.01,161.5 87.58,161.5 88.14,161.5 88.71,161.51 89.28,161.52 89.85,161.53 90.42,161.56 90.99,161.6 91.56,161.66 92.12,161.75 92.69,161.87 93.26,162.04 93.83,162.26 94.4,162.54 94.97,162.91 95.54,163.36 96.11,163.92 96.67,164.59 97.24,165.4 97.81,166.35 98.38,167.45 98.95,168.71 99.52,170.13 100.09,171.72 100.66,173.48 101.22,175.38 101.79,177.42 102.36,179.58 102.93,181.84 103.5,184.18 104.07,186.57 104.64,188.98 105.21,191.39 105.78,193.78 106.34,196.11 106.91,198.38 107.48,200.57 108.05,202.67 108.62,204.66 109.19,206.54 109.76,208.31 110.33,209.97 110.89,211.51 111.46,212.94 112.03,214.27 112.6,215.5 113.17,216.63 113.74,217.67 114.31,218.63 114.88,219.5 115.44,220.31 116.01,221.05 116.58,221.72 117.15,222.34 117.72,222.91 118.29,223.43 118.86,223.91 119.42,224.35 119.99,224.75 120.56,225.11 121.13,225.45 121.7,225.76 122.27,226.05 122.84,226.31 123.41,226.55 123.97,226.77 124.54,226.97 125.11,227.16 125.68,227.34 126.25,227.5 126.82,227.65 127.39,227.78 127.96,227.91 128.53,228.03 129.09,228.14 129.66,228.24 130.23,228.33 130.8,228.42 131.37,228.5 131.94,228.58 132.51,228.65 133.07,228.72 133.64,228.78 134.21,228.83 134.78,228.89 135.35,228.94 135.92,228.98 136.49,229.03 137.06,229.07 137.62,229.11 138.19,229.14 138.76,229.18 139.33,229.21 139.9,229.24 140.47,229.27 141.04,229.29 141.61,229.32 142.18,229.34 142.74,229.36 143.31,229.39 143.88,229.4 144.45,229.42 145.02,229.44 145.59,229.46 146.16,229.47 146.72,229.49 147.29,229.5 147.86,229.51 148.43,229.53 149,229.54 149.57,229.55 150.14,229.56 150.71,229.57 151.28,229.58 151.84,229.59 152.41,229.6 152.98,229.61 153.55,229.62 154.12,229.62 154.69,229.63 155.26,229.64 155.82,229.64 156.39,229.65 156.96,229.66 157.53,229.66 158.1,229.67 158.67,229.67 159.24,229.68 159.81,229.68 160.38,229.69 160.94,229.69 161.51,229.69 162.08,229.7 162.65,229.7 163.22,229.7 163.79,229.71 164.36,229.71 164.93,229.71 165.49,229.72 166.06,229.72 166.63,229.72 167.2,229.73 167.77,229.73 168.34,229.73 168.91,229.73 169.47,229.74 170.04,229.74 170.61,229.74 171.18,229.74 171.75,229.74 172.32,229.75 172.89,229.75 173.46,229.75 174.03,229.75 174.59,229.75 175.16,229.75 175.73,229.75 176.3,229.76 176.87,229.76 177.44,229.76 178.01,229.76 178.57,229.76 179.14,229.76 179.71,229.76 180.28,229.76 180.85,229.77 181.42,229.77 181.99,229.77 182.56,229.77 183.12,229.77 183.69,229.77 184.26,229.77 184.83,229.77 185.4,229.77 185.97,229.77 186.54,229.77 187.11,229.77 187.68,229.78 188.24,229.78 188.81,229.78 189.38,229.78 189.95,229.78 190.52,229.78 191.09,229.78 191.66,229.78 192.22,229.78 192.79,229.78 193.36,229.78 193.93,229.78 194.5,229.78 195.07,229.78 195.64,229.78 196.21,229.78 196.78,229.78 197.34,229.78 197.91,229.78 198.48,229.79 199.05,229.79" fill="none" stroke="#d01f36" stroke-width="1.5" stroke-linejoin="round" />
<polyline points="85.3,161.5 85.87,161.5 86.44,161.5 87.01,161.5 87.58,161.5 88.14,161.5 88.71,161.5 89.28,161.5 89.85,161.5 90.42,161.5 90.99,161.5 91.56,161.5 92.12,161.5 92.69,161.5 93.26,161.5 93.83,161.5 94.4,161.5 94.97,161.5 95.54,161.5 96.11,161.5 96.67,161.5 97.24,161.5 97.81,161.5 98.38,161.5 98.95,161.5 99.52,161.5 100.09,161.51 100.66,161.51 101.22,161.51 101.79,161.51 102.36,161.52 102.93,161.52 103.5,161.53 104.07,161.53 104.64,161.54 105.21,161.55 105.78,161.56 106.34,161.57 106.91,161.58 107.48,161.6 108.05,161.61 108.62,161.64 109.19,161.66 109.76,161.69 110.33,161.72 110.89,161.75 111.46,161.79 112.03,161.84 112.6,161.89 113.17,161.95 113.74,162.02 114.31,162.09 114.88,162.17 115.44,162.27 116.01,162.37 116.58,162.48 117.15,162.61 117.72,162.75 118.29,162.9 118.86,163.07 119.42,163.26 119.99,163.46 120.56,163.68 121.13,163.92 121.7,164.19 122.27,164.47 122.84,164.78 123.41,165.11 123.97,165.48 124.54,165.86 125.11,166.28 125.68,166.73 126.25,167.21 126.82,167.72 127.39,168.26 127.96,168.84 128.53,169.45 129.09,170.09 129.66,170.77 130.23,171.49 130.8,172.24 131.37,173.03 131.94,173.85 132.51,174.71 133.07,175.6 133.64,176.52 134.21,177.47 134.78,178.45 135.35,179.46 135.92,180.5 136.49,181.56 137.06,182.64 137.62,183.74 138.19,184.85 138.76,185.98 139.33,187.12 139.9,188.27 140.47,189.43 141.04,190.59 141.61,191.75 142.18,192.9 142.74,194.05 143.31,195.2 143.88,196.33 144.45,197.45 145.02,198.55 145.59,199.64 146.16,200.71 146.72,201.77 147.29,202.8 147.86,203.8 148.43,204.79 149,205.74 149.57,206.68 150.14,207.59 150.71,208.47 151.28,209.32 151.84,210.15 152.41,210.95 152.98,211.72 153.55,212.47 154.12,213.19 154.69,213.88 155.26,214.55 155.82,215.19 156.39,215.81 156.96,216.4 157.53,216.97 158.1,217.52 158.67,218.04 159.24,218.54 159.81,219.02 160.38,219.49 160.94,219.93 161.51,220.35 162.08,220.75 162.65,221.14 163.22,221.51 163.79,221.86 164.36,222.2 164.93,222.52 165.49,222.83 166.06,223.13 166.63,223.41 167.2,223.68 167.77,223.94 168.34,224.18 168.91,224.42 169.47,224.64 170.04,224.86 170.61,225.06 171.18,225.26 171.75,225.44 172.32,225.62 172.89,225.79 173.46,225.95 174.03,226.11 174.59,226.26 175.16,226.4 175.73,226.54 176.3,226.67 176.87,226.79 177.44,226.91 178.01,227.02 178.57,227.13 179.14,227.24 179.71,227.34 180.28,227.43 180.85,227.52 181.42,227.61 181.99,227.69 182.56,227.77 183.12,227.85 183.69,227.92 184.26,227.99 184.83,228.06 185.4,228.12 185.97,228.19 186.54,228.25 187.11,228.3 187.68,228.36 188.24,228.41 188.81,228.46 189.38,228.51 189.95,228.55 190.52,228.6 191.09,228.64 191.66,228.68 192.22,228.72 192.79,228.76 193.36,228.79 193.93,228.83 194.5,228.86 195.07,228.89 195.64,228.93 196.21,228.96 196.78,228.98 197.34,229.01 197.91,229.04 198.48,229.06 199.05,229.09" fill="none" stroke="#55287f" stroke-width="1.5" stroke-linejoin="round" />
<rect x="84.15" y="160.35" width="2.3" height="2.3" fill="#111"/>
<line x1="86.44" y1="157.4" x2="86.44" y2="150.57" stroke="#151515" stroke-width="0.95" />
<line x1="84.84" y1="157.4" x2="88.04" y2="157.4" stroke="#151515" stroke-width="0.95" />
<line x1="84.84" y1="150.57" x2="88.04" y2="150.57" stroke="#151515" stroke-width="0.95" />
<rect x="85.29" y="152.84" width="2.3" height="2.3" fill="#111"/>
<line x1="87.12" y1="151.94" x2="87.12" y2="147.16" stroke="#151515" stroke-width="0.95" />
<line x1="85.52" y1="151.94" x2="88.72" y2="151.94" stroke="#151515" stroke-width="0.95" />
<line x1="85.52" y1="147.16" x2="88.72" y2="147.16" stroke="#151515" stroke-width="0.95" />
<polygon points="87.12,147.53 85.72,150.33 88.52,150.33" fill="#111"/>
<line x1="88.03" y1="148.52" x2="88.03" y2="145.11" stroke="#151515" stroke-width="0.95" />
<line x1="86.43" y1="148.52" x2="89.63" y2="148.52" stroke="#151515" stroke-width="0.95" />
<line x1="86.43" y1="145.11" x2="89.63" y2="145.11" stroke="#151515" stroke-width="0.95" />
<polygon points="88.03,144.79 86.63,147.59 89.43,147.59" fill="#111"/>
<line x1="88.03" y1="164.23" x2="88.03" y2="154.67" stroke="#151515" stroke-width="0.95" />
<line x1="86.43" y1="164.23" x2="89.63" y2="164.23" stroke="#151515" stroke-width="0.95" />
<line x1="86.43" y1="154.67" x2="89.63" y2="154.67" stroke="#151515" stroke-width="0.95" />
<circle cx="88.03" cy="159.45" r="1.25" fill="#111"/>
<line x1="90.99" y1="182.67" x2="90.99" y2="166.28" stroke="#151515" stroke-width="0.95" />
<line x1="89.39" y1="182.67" x2="92.59" y2="182.67" stroke="#151515" stroke-width="0.95" />
<line x1="89.39" y1="166.28" x2="92.59" y2="166.28" stroke="#151515" stroke-width="0.95" />
<circle cx="90.99" cy="175.16" r="1.25" fill="#111"/>
<line x1="96.67" y1="152.62" x2="96.67" y2="147.16" stroke="#151515" stroke-width="0.95" />
<line x1="95.08" y1="152.62" x2="98.27" y2="152.62" stroke="#151515" stroke-width="0.95" />
<line x1="95.08" y1="147.16" x2="98.27" y2="147.16" stroke="#151515" stroke-width="0.95" />
<polygon points="96.67,148.21 95.27,151.01 98.08,151.01" fill="#111"/>
<line x1="96.67" y1="173.79" x2="96.67" y2="171.06" stroke="#151515" stroke-width="0.95" />
<line x1="95.08" y1="173.79" x2="98.27" y2="173.79" stroke="#151515" stroke-width="0.95" />
<line x1="95.08" y1="171.06" x2="98.27" y2="171.06" stroke="#151515" stroke-width="0.95" />
<rect x="95.52" y="171.28" width="2.3" height="2.3" fill="#111"/>
<line x1="108.05" y1="202.48" x2="108.05" y2="197.02" stroke="#151515" stroke-width="0.95" />
<line x1="106.45" y1="202.48" x2="109.65" y2="202.48" stroke="#151515" stroke-width="0.95" />
<line x1="106.45" y1="197.02" x2="109.65" y2="197.02" stroke="#151515" stroke-width="0.95" />
<rect x="106.9" y="198.6" width="2.3" height="2.3" fill="#111"/>
<line x1="130.8" y1="175.84" x2="130.8" y2="167.65" stroke="#151515" stroke-width="0.95" />
<line x1="129.2" y1="175.84" x2="132.4" y2="175.84" stroke="#151515" stroke-width="0.95" />
<line x1="129.2" y1="167.65" x2="132.4" y2="167.65" stroke="#151515" stroke-width="0.95" />
<circle cx="130.8" cy="171.75" r="1.25" fill="#111"/>
<line x1="130.8" y1="176.53" x2="130.8" y2="171.06" stroke="#151515" stroke-width="0.95" />
<line x1="129.2" y1="176.53" x2="132.4" y2="176.53" stroke="#151515" stroke-width="0.95" />
<line x1="129.2" y1="171.06" x2="132.4" y2="171.06" stroke="#151515" stroke-width="0.95" />
<polygon points="130.8,172.11 129.4,174.91 132.2,174.91" fill="#111"/>
<line x1="176.53" y1="226.39" x2="176.53" y2="224.34" stroke="#151515" stroke-width="0.95" />
<line x1="174.93" y1="226.39" x2="178.13" y2="226.39" stroke="#151515" stroke-width="0.95" />
<line x1="174.93" y1="224.34" x2="178.13" y2="224.34" stroke="#151515" stroke-width="0.95" />
<circle cx="176.53" cy="225.36" r="1.25" fill="#111"/>
<polygon points="104.8,147.4 105.38,148.2 106.32,148.51 105.74,149.31 105.74,150.29 104.8,149.99 103.86,150.29 103.86,149.31 103.28,148.51 104.22,148.2" fill="#55287f"/>
<polygon points="108.47,147.4 109.05,148.2 109.99,148.51 109.41,149.31 109.41,150.29 108.47,149.99 107.53,150.29 107.53,149.31 106.95,148.51 107.89,148.2" fill="#55287f"/>
<polygon points="112.14,147.4 112.72,148.2 113.66,148.51 113.08,149.31 113.08,150.29 112.14,149.99 111.2,150.29 111.2,149.31 110.62,148.51 111.56,148.2" fill="#55287f"/>
<polygon points="115.81,147.4 116.39,148.2 117.33,148.51 116.75,149.31 116.75,150.29 115.81,149.99 114.87,150.29 114.87,149.31 114.29,148.51 115.23,148.2" fill="#55287f"/>
<polygon points="104.8,154.9 105.38,155.7 106.32,156.01 105.74,156.81 105.74,157.79 104.8,157.49 103.86,157.79 103.86,156.81 103.28,156.01 104.22,155.7" fill="#f39a1e"/>
<polygon points="108.47,154.9 109.05,155.7 109.99,156.01 109.41,156.81 109.41,157.79 108.47,157.49 107.53,157.79 107.53,156.81 106.95,156.01 107.89,155.7" fill="#f39a1e"/>
<polygon points="112.14,154.9 112.72,155.7 113.66,156.01 113.08,156.81 113.08,157.79 112.14,157.49 111.2,157.79 111.2,156.81 110.62,156.01 111.56,155.7" fill="#f39a1e"/>
<polygon points="115.81,154.9 116.39,155.7 117.33,156.01 116.75,156.81 116.75,157.79 115.81,157.49 114.87,157.79 114.87,156.81 114.29,156.01 115.23,155.7" fill="#f39a1e"/>
<polygon points="129,151.4 129.58,152.2 130.52,152.51 129.94,153.31 129.94,154.29 129,153.99 128.06,154.29 128.06,153.31 127.48,152.51 128.42,152.2" fill="#55287f"/>
<polygon points="132.73,151.4 133.31,152.2 134.25,152.51 133.67,153.31 133.67,154.29 132.73,153.99 131.79,154.29 131.79,153.31 131.21,152.51 132.15,152.2" fill="#55287f"/>
<polygon points="136.46,151.4 137.04,152.2 137.98,152.51 137.4,153.31 137.4,154.29 136.46,153.99 135.52,154.29 135.52,153.31 134.94,152.51 135.88,152.2" fill="#55287f"/>
<polygon points="140.19,151.4 140.77,152.2 141.71,152.51 141.13,153.31 141.13,154.29 140.19,153.99 139.25,154.29 139.25,153.31 138.67,152.51 139.61,152.2" fill="#55287f"/>
<polygon points="129,158.9 129.58,159.7 130.52,160.01 129.94,160.81 129.94,161.79 129,161.49 128.06,161.79 128.06,160.81 127.48,160.01 128.42,159.7" fill="#f39a1e"/>
<polygon points="132.73,158.9 133.31,159.7 134.25,160.01 133.67,160.81 133.67,161.79 132.73,161.49 131.79,161.79 131.79,160.81 131.21,160.01 132.15,159.7" fill="#f39a1e"/>
<polygon points="136.46,158.9 137.04,159.7 137.98,160.01 137.4,160.81 137.4,161.79 136.46,161.49 135.52,161.79 135.52,160.81 134.94,160.01 135.88,159.7" fill="#f39a1e"/>
<polygon points="140.19,158.9 140.77,159.7 141.71,160.01 141.13,160.81 141.13,161.79 140.19,161.49 139.25,161.79 139.25,160.81 138.67,160.01 139.61,159.7" fill="#f39a1e"/>
<polygon points="171.5,208.5 172.08,209.3 173.02,209.61 172.44,210.41 172.44,211.39 171.5,211.09 170.56,211.39 170.56,210.41 169.98,209.61 170.92,209.3" fill="#55287f"/>
<polygon points="175.1,208.5 175.68,209.3 176.62,209.61 176.04,210.41 176.04,211.39 175.1,211.09 174.16,211.39 174.16,210.41 173.58,209.61 174.52,209.3" fill="#55287f"/>
<polygon points="178.7,208.5 179.28,209.3 180.22,209.61 179.64,210.41 179.64,211.39 178.7,211.09 177.76,211.39 177.76,210.41 177.18,209.61 178.12,209.3" fill="#55287f"/>
<polygon points="182.3,208.5 182.88,209.3 183.82,209.61 183.24,210.41 183.24,211.39 182.3,211.09 181.36,211.39 181.36,210.41 180.78,209.61 181.72,209.3" fill="#55287f"/>
<polygon points="171.5,215.8 172.08,216.6 173.02,216.91 172.44,217.71 172.44,218.69 171.5,218.39 170.56,218.69 170.56,217.71 169.98,216.91 170.92,216.6" fill="#f39a1e"/>
<polygon points="175.1,215.8 175.68,216.6 176.62,216.91 176.04,217.71 176.04,218.69 175.1,218.39 174.16,218.69 174.16,217.71 173.58,216.91 174.52,216.6" fill="#f39a1e"/>
<polygon points="178.7,215.8 179.28,216.6 180.22,216.91 179.64,217.71 179.64,218.69 178.7,218.39 177.76,218.69 177.76,217.71 177.18,216.91 178.12,216.6" fill="#f39a1e"/>
<polygon points="182.3,215.8 182.88,216.6 183.82,216.91 183.24,217.71 183.24,218.69 182.3,218.39 181.36,218.69 181.36,217.71 180.78,216.91 181.72,216.6" fill="#f39a1e"/>
<line x1="264.8" y1="151.5" x2="264.8" y2="230.4" stroke="#2b2b2b" stroke-width="1.25" />
<line x1="261.6" y1="229.8" x2="378.7" y2="229.8" stroke="#2b2b2b" stroke-width="1.25" />
<line x1="261.6" y1="229.8" x2="264.8" y2="229.8" stroke="#2b2b2b" stroke-width="1.0" />
<text x="258.7" y="232.7" font-size="8.4" text-anchor="end" fill="#2e2e2e" textLength="4.15" lengthAdjust="spacingAndGlyphs" >0</text>
<line x1="261.6" y1="198.7" x2="264.8" y2="198.7" stroke="#2b2b2b" stroke-width="1.0" />
<text x="258.7" y="201.6" font-size="8.4" text-anchor="end" fill="#2e2e2e" textLength="8.3" lengthAdjust="spacingAndGlyphs" >50</text>
<line x1="261.6" y1="167.6" x2="264.8" y2="167.6" stroke="#2b2b2b" stroke-width="1.0" />
<text x="258.7" y="170.5" font-size="8.4" text-anchor="end" fill="#2e2e2e" textLength="12.45" lengthAdjust="spacingAndGlyphs" >100</text>
<line x1="262.8" y1="214.25" x2="264.8" y2="214.25" stroke="#2b2b2b" stroke-width="0.9" />
<line x1="262.8" y1="183.15" x2="264.8" y2="183.15" stroke="#2b2b2b" stroke-width="0.9" />
<line x1="262.8" y1="152.05" x2="264.8" y2="152.05" stroke="#2b2b2b" stroke-width="0.9" />
<line x1="264.8" y1="229.8" x2="264.8" y2="232.6" stroke="#2b2b2b" stroke-width="1.0" />
<text x="264.8" y="243.4" font-size="8.4" text-anchor="middle" fill="#2e2e2e" textLength="4.15" lengthAdjust="spacingAndGlyphs" >0</text>
<line x1="302.6" y1="229.8" x2="302.6" y2="232.6" stroke="#2b2b2b" stroke-width="1.0" />
<text x="302.6" y="243.4" font-size="8.4" text-anchor="middle" fill="#2e2e2e" textLength="12.45" lengthAdjust="spacingAndGlyphs" >100</text>
<line x1="340.4" y1="229.8" x2="340.4" y2="232.6" stroke="#2b2b2b" stroke-width="1.0" />
<text x="340.4" y="243.4" font-size="8.4" text-anchor="middle" fill="#2e2e2e" textLength="12.45" lengthAdjust="spacingAndGlyphs" >200</text>
<line x1="378.2" y1="229.8" x2="378.2" y2="232.6" stroke="#2b2b2b" stroke-width="1.0" />
<text x="378.2" y="243.4" font-size="8.4" text-anchor="middle" fill="#2e2e2e" textLength="12.45" lengthAdjust="spacingAndGlyphs" >300</text>
<polyline points="264.8,167.6 265.37,167.6 265.93,167.6 266.5,167.6 267.07,167.6 267.63,167.6 268.2,167.6 268.77,167.6 269.34,167.6 269.9,167.6 270.47,167.6 271.04,167.6 271.6,167.6 272.17,167.6 272.74,167.6 273.31,167.6 273.87,167.6 274.44,167.6 275.01,167.6 275.57,167.6 276.14,167.6 276.71,167.6 277.27,167.6 277.84,167.6 278.41,167.6 278.98,167.6 279.54,167.6 280.11,167.6 280.68,167.6 281.24,167.6 281.81,167.6 282.38,167.6 282.94,167.6 283.51,167.6 284.08,167.6 284.64,167.6 285.21,167.6 285.78,167.6 286.35,167.6 286.91,167.6 287.48,167.6 288.05,167.6 288.61,167.6 289.18,167.6 289.75,167.6 290.31,167.6 290.88,167.6 291.45,167.6 292.02,167.6 292.58,167.6 293.15,167.6 293.72,167.6 294.28,167.6 294.85,167.6 295.42,167.6 295.99,167.6 296.55,167.6 297.12,167.6 297.69,167.6 298.25,167.6 298.82,167.6 299.39,167.6 299.95,167.6 300.52,167.6 301.09,167.6 301.66,167.6 302.22,167.6 302.79,167.6 303.36,167.6 303.92,167.6 304.49,167.6 305.06,167.6 305.62,167.6 306.19,167.6 306.76,167.6 307.32,167.6 307.89,167.6 308.46,167.6 309.03,167.6 309.59,167.6 310.16,167.6 310.73,167.6 311.29,167.6 311.86,167.6 312.43,167.6 313,167.6 313.56,167.6 314.13,167.6 314.7,167.6 315.26,167.6 315.83,167.6 316.4,167.6 316.96,167.6 317.53,167.61 318.1,167.61 318.67,167.61 319.23,167.61 319.8,167.62 320.37,167.62 320.93,167.63 321.5,167.64 322.07,167.65 322.63,167.66 323.2,167.68 323.77,167.7 324.34,167.72 324.9,167.76 325.47,167.8 326.04,167.86 326.6,167.93 327.17,168.02 327.74,168.12 328.3,168.26 328.87,168.43 329.44,168.64 330,168.9 330.57,169.22 331.14,169.61 331.71,170.09 332.27,170.67 332.84,171.37 333.41,172.22 333.97,173.22 334.54,174.4 335.11,175.79 335.68,177.39 336.24,179.22 336.81,181.29 337.38,183.59 337.94,186.11 338.51,188.82 339.08,191.68 339.64,194.66 340.21,197.69 340.78,200.71 341.35,203.68 341.91,206.53 342.48,209.23 343.05,211.75 343.61,214.06 344.18,216.15 344.75,218.02 345.31,219.67 345.88,221.13 346.45,222.39 347.01,223.49 347.58,224.43 348.15,225.24 348.72,225.93 349.28,226.52 349.85,227.02 350.42,227.44 350.98,227.8 351.55,228.11 352.12,228.37 352.69,228.58 353.25,228.77 353.82,228.92 354.39,229.06 354.95,229.17 355.52,229.26 356.09,229.34 356.65,229.41 357.22,229.47 357.79,229.52 358.36,229.56 358.92,229.59 359.49,229.62 360.06,229.65 360.62,229.67 361.19,229.69 361.76,229.7 362.32,229.72 362.89,229.73 363.46,229.74 364.02,229.75 364.59,229.75 365.16,229.76 365.73,229.77 366.29,229.77 366.86,229.77 367.43,229.78 367.99,229.78 368.56,229.78 369.13,229.79 369.69,229.79 370.26,229.79 370.83,229.79 371.4,229.79 371.96,229.79 372.53,229.79 373.1,229.79 373.66,229.8 374.23,229.8 374.8,229.8 375.37,229.8 375.93,229.8 376.5,229.8 377.07,229.8 377.63,229.8 378.2,229.8" fill="none" stroke="#f39a1e" stroke-width="1.5" stroke-linejoin="round" />
<polyline points="264.8,167.6 265.37,167.6 265.93,167.6 266.5,167.6 267.07,167.6 267.63,167.6 268.2,167.6 268.77,167.6 269.34,167.6 269.9,167.6 270.47,167.6 271.04,167.6 271.6,167.6 272.17,167.6 272.74,167.6 273.31,167.6 273.87,167.6 274.44,167.6 275.01,167.6 275.57,167.6 276.14,167.6 276.71,167.6 277.27,167.6 277.84,167.6 278.41,167.6 278.98,167.6 279.54,167.6 280.11,167.6 280.68,167.6 281.24,167.6 281.81,167.6 282.38,167.6 282.94,167.6 283.51,167.6 284.08,167.6 284.64,167.6 285.21,167.6 285.78,167.6 286.35,167.6 286.91,167.6 287.48,167.6 288.05,167.6 288.61,167.6 289.18,167.6 289.75,167.6 290.31,167.6 290.88,167.6 291.45,167.6 292.02,167.6 292.58,167.6 293.15,167.6 293.72,167.6 294.28,167.6 294.85,167.6 295.42,167.6 295.99,167.6 296.55,167.6 297.12,167.6 297.69,167.6 298.25,167.6 298.82,167.6 299.39,167.6 299.95,167.6 300.52,167.6 301.09,167.6 301.66,167.6 302.22,167.6 302.79,167.6 303.36,167.6 303.92,167.6 304.49,167.6 305.06,167.6 305.62,167.6 306.19,167.6 306.76,167.6 307.32,167.6 307.89,167.6 308.46,167.6 309.03,167.6 309.59,167.6 310.16,167.6 310.73,167.6 311.29,167.6 311.86,167.6 312.43,167.6 313,167.6 313.56,167.6 314.13,167.6 314.7,167.6 315.26,167.6 315.83,167.6 316.4,167.6 316.96,167.6 317.53,167.6 318.1,167.61 318.67,167.61 319.23,167.61 319.8,167.61 320.37,167.62 320.93,167.62 321.5,167.63 322.07,167.64 322.63,167.65 323.2,167.67 323.77,167.69 324.34,167.72 324.9,167.75 325.47,167.8 326.04,167.86 326.6,167.93 327.17,168.03 327.74,168.16 328.3,168.31 328.87,168.51 329.44,168.76 330,169.07 330.57,169.47 331.14,169.95 331.71,170.56 332.27,171.3 332.84,172.2 333.41,173.3 333.97,174.61 334.54,176.16 335.11,177.97 335.68,180.06 336.24,182.44 336.81,185.08 337.38,187.97 337.94,191.05 338.51,194.29 339.08,197.59 339.64,200.9 340.21,204.13 340.78,207.23 341.35,210.13 341.91,212.8 342.48,215.21 343.05,217.36 343.61,219.25 344.18,220.9 344.75,222.31 345.31,223.52 345.88,224.55 346.45,225.41 347.01,226.14 347.58,226.75 348.15,227.26 348.72,227.68 349.28,228.04 349.85,228.33 350.42,228.57 350.98,228.78 351.55,228.95 352.12,229.09 352.69,229.2 353.25,229.3 353.82,229.38 354.39,229.45 354.95,229.51 355.52,229.55 356.09,229.59 356.65,229.63 357.22,229.65 357.79,229.68 358.36,229.7 358.92,229.71 359.49,229.73 360.06,229.74 360.62,229.75 361.19,229.75 361.76,229.76 362.32,229.77 362.89,229.77 363.46,229.78 364.02,229.78 364.59,229.78 365.16,229.79 365.73,229.79 366.29,229.79 366.86,229.79 367.43,229.79 367.99,229.79 368.56,229.79 369.13,229.8 369.69,229.8 370.26,229.8 370.83,229.8 371.4,229.8 371.96,229.8 372.53,229.8 373.1,229.8 373.66,229.8 374.23,229.8 374.8,229.8 375.37,229.8 375.93,229.8 376.5,229.8 377.07,229.8 377.63,229.8 378.2,229.8" fill="none" stroke="#55287f" stroke-width="1.5" stroke-linejoin="round" />
<polyline points="264.8,167.6 265.37,167.6 265.93,167.6 266.5,167.6 267.07,167.6 267.63,167.6 268.2,167.6 268.77,167.6 269.34,167.6 269.9,167.6 270.47,167.61 271.04,167.61 271.6,167.62 272.17,167.63 272.74,167.65 273.31,167.67 273.87,167.69 274.44,167.73 275.01,167.77 275.57,167.82 276.14,167.89 276.71,167.98 277.27,168.08 277.84,168.2 278.41,168.35 278.98,168.52 279.54,168.73 280.11,168.97 280.68,169.25 281.24,169.57 281.81,169.93 282.38,170.35 282.94,170.81 283.51,171.34 284.08,171.92 284.64,172.57 285.21,173.28 285.78,174.06 286.35,174.91 286.91,175.83 287.48,176.81 288.05,177.86 288.61,178.98 289.18,180.17 289.75,181.41 290.31,182.7 290.88,184.05 291.45,185.44 292.02,186.86 292.58,188.32 293.15,189.79 293.72,191.28 294.28,192.78 294.85,194.28 295.42,195.77 295.99,197.24 296.55,198.7 297.12,200.13 297.69,201.53 298.25,202.89 298.82,204.22 299.39,205.5 299.95,206.74 300.52,207.94 301.09,209.08 301.66,210.18 302.22,211.23 302.79,212.23 303.36,213.19 303.92,214.1 304.49,214.96 305.06,215.78 305.62,216.55 306.19,217.28 306.76,217.98 307.32,218.63 307.89,219.25 308.46,219.83 309.03,220.38 309.59,220.9 310.16,221.38 310.73,221.84 311.29,222.27 311.86,222.68 312.43,223.06 313,223.43 313.56,223.77 314.13,224.09 314.7,224.39 315.26,224.67 315.83,224.94 316.4,225.19 316.96,225.42 317.53,225.65 318.1,225.86 318.67,226.06 319.23,226.24 319.8,226.42 320.37,226.59 320.93,226.74 321.5,226.89 322.07,227.03 322.63,227.16 323.2,227.29 323.77,227.41 324.34,227.52 324.9,227.63 325.47,227.73 326.04,227.82 326.6,227.91 327.17,228 327.74,228.08 328.3,228.15 328.87,228.23 329.44,228.29 330,228.36 330.57,228.42 331.14,228.48 331.71,228.54 332.27,228.59 332.84,228.64 333.41,228.69 333.97,228.73 334.54,228.78 335.11,228.82 335.68,228.86 336.24,228.9 336.81,228.93 337.38,228.97 337.94,229 338.51,229.03 339.08,229.06 339.64,229.09 340.21,229.12 340.78,229.14 341.35,229.17 341.91,229.19 342.48,229.21 343.05,229.23 343.61,229.25 344.18,229.27 344.75,229.29 345.31,229.31 345.88,229.33 346.45,229.35 347.01,229.36 347.58,229.38 348.15,229.39 348.72,229.41 349.28,229.42 349.85,229.43 350.42,229.44 350.98,229.46 351.55,229.47 352.12,229.48 352.69,229.49 353.25,229.5 353.82,229.51 354.39,229.52 354.95,229.53 355.52,229.54 356.09,229.54 356.65,229.55 357.22,229.56 357.79,229.57 358.36,229.58 358.92,229.58 359.49,229.59 360.06,229.6 360.62,229.6 361.19,229.61 361.76,229.61 362.32,229.62 362.89,229.62 363.46,229.63 364.02,229.63 364.59,229.64 365.16,229.64 365.73,229.65 366.29,229.65 366.86,229.66 367.43,229.66 367.99,229.66 368.56,229.67 369.13,229.67 369.69,229.68 370.26,229.68 370.83,229.68 371.4,229.69 371.96,229.69 372.53,229.69 373.1,229.69 373.66,229.7 374.23,229.7 374.8,229.7 375.37,229.71 375.93,229.71 376.5,229.71 377.07,229.71 377.63,229.71 378.2,229.72" fill="none" stroke="#d01f36" stroke-width="1.5" stroke-linejoin="round" />
<rect x="263.65" y="166.45" width="2.3" height="2.3" fill="#111"/>
<line x1="266.69" y1="165.11" x2="266.69" y2="152.67" stroke="#151515" stroke-width="0.95" />
<line x1="265.09" y1="165.11" x2="268.29" y2="165.11" stroke="#151515" stroke-width="0.95" />
<line x1="265.09" y1="152.67" x2="268.29" y2="152.67" stroke="#151515" stroke-width="0.95" />
<rect x="265.54" y="157.12" width="2.3" height="2.3" fill="#111"/>
<line x1="267.82" y1="165.11" x2="267.82" y2="156.4" stroke="#151515" stroke-width="0.95" />
<line x1="266.22" y1="165.11" x2="269.42" y2="165.11" stroke="#151515" stroke-width="0.95" />
<line x1="266.22" y1="156.4" x2="269.42" y2="156.4" stroke="#151515" stroke-width="0.95" />
<circle cx="267.82" cy="161.38" r="1.25" fill="#111"/>
<line x1="269.34" y1="171.33" x2="269.34" y2="157.03" stroke="#151515" stroke-width="0.95" />
<line x1="267.74" y1="171.33" x2="270.94" y2="171.33" stroke="#151515" stroke-width="0.95" />
<line x1="267.74" y1="157.03" x2="270.94" y2="157.03" stroke="#151515" stroke-width="0.95" />
<circle cx="269.34" cy="158.27" r="1.25" fill="#111"/>
<line x1="274.25" y1="166.36" x2="274.25" y2="152.36" stroke="#151515" stroke-width="0.95" />
<line x1="272.65" y1="166.36" x2="275.85" y2="166.36" stroke="#151515" stroke-width="0.95" />
<line x1="272.65" y1="152.36" x2="275.85" y2="152.36" stroke="#151515" stroke-width="0.95" />
<circle cx="274.25" cy="155.16" r="1.25" fill="#111"/>
<circle cx="274.25" cy="162.94" r="1.25" fill="#111"/>
<line x1="283.7" y1="155.78" x2="283.7" y2="152.67" stroke="#151515" stroke-width="0.95" />
<line x1="282.1" y1="155.78" x2="285.3" y2="155.78" stroke="#151515" stroke-width="0.95" />
<line x1="282.1" y1="152.67" x2="285.3" y2="152.67" stroke="#151515" stroke-width="0.95" />
<circle cx="283.7" cy="154.54" r="1.25" fill="#111"/>
<line x1="283.7" y1="165.73" x2="283.7" y2="156.4" stroke="#151515" stroke-width="0.95" />
<line x1="282.1" y1="165.73" x2="285.3" y2="165.73" stroke="#151515" stroke-width="0.95" />
<line x1="282.1" y1="156.4" x2="285.3" y2="156.4" stroke="#151515" stroke-width="0.95" />
<circle cx="283.7" cy="160.51" r="1.25" fill="#111"/>
<line x1="283.7" y1="178.49" x2="283.7" y2="170.4" stroke="#151515" stroke-width="0.95" />
<line x1="282.1" y1="178.49" x2="285.3" y2="178.49" stroke="#151515" stroke-width="0.95" />
<line x1="282.1" y1="170.4" x2="285.3" y2="170.4" stroke="#151515" stroke-width="0.95" />
<circle cx="283.7" cy="174.01" r="1.25" fill="#111"/>
<line x1="302.6" y1="166.36" x2="302.6" y2="152.67" stroke="#151515" stroke-width="0.95" />
<line x1="301" y1="166.36" x2="304.2" y2="166.36" stroke="#151515" stroke-width="0.95" />
<line x1="301" y1="152.67" x2="304.2" y2="152.67" stroke="#151515" stroke-width="0.95" />
<circle cx="302.6" cy="154.91" r="1.25" fill="#111"/>
<circle cx="302.6" cy="162.38" r="1.25" fill="#111"/>
<line x1="340.78" y1="201.81" x2="340.78" y2="194.97" stroke="#151515" stroke-width="0.95" />
<line x1="339.18" y1="201.81" x2="342.38" y2="201.81" stroke="#151515" stroke-width="0.95" />
<line x1="339.18" y1="194.97" x2="342.38" y2="194.97" stroke="#151515" stroke-width="0.95" />
<circle cx="340.78" cy="197.46" r="1.25" fill="#111"/>
<line x1="340.78" y1="209.9" x2="340.78" y2="201.81" stroke="#151515" stroke-width="0.95" />
<line x1="339.18" y1="209.9" x2="342.38" y2="209.9" stroke="#151515" stroke-width="0.95" />
<line x1="339.18" y1="201.81" x2="342.38" y2="201.81" stroke="#151515" stroke-width="0.95" />
<circle cx="340.78" cy="203.68" r="1.25" fill="#111"/>
<polygon points="278.6,139.4 279.18,140.2 280.12,140.51 279.54,141.31 279.54,142.29 278.6,141.99 277.66,142.29 277.66,141.31 277.08,140.51 278.02,140.2" fill="#55287f"/>
<polygon points="282.07,139.4 282.65,140.2 283.59,140.51 283.01,141.31 283.01,142.29 282.07,141.99 281.13,142.29 281.13,141.31 280.55,140.51 281.49,140.2" fill="#55287f"/>
<polygon points="285.54,139.4 286.12,140.2 287.06,140.51 286.48,141.31 286.48,142.29 285.54,141.99 284.6,142.29 284.6,141.31 284.02,140.51 284.96,140.2" fill="#55287f"/>
<polygon points="289.01,139.4 289.59,140.2 290.53,140.51 289.95,141.31 289.95,142.29 289.01,141.99 288.07,142.29 288.07,141.31 287.49,140.51 288.43,140.2" fill="#55287f"/>
<polygon points="278.6,146.3 279.18,147.1 280.12,147.41 279.54,148.21 279.54,149.19 278.6,148.89 277.66,149.19 277.66,148.21 277.08,147.41 278.02,147.1" fill="#f39a1e"/>
<polygon points="282.07,146.3 282.65,147.1 283.59,147.41 283.01,148.21 283.01,149.19 282.07,148.89 281.13,149.19 281.13,148.21 280.55,147.41 281.49,147.1" fill="#f39a1e"/>
<polygon points="285.54,146.3 286.12,147.1 287.06,147.41 286.48,148.21 286.48,149.19 285.54,148.89 284.6,149.19 284.6,148.21 284.02,147.41 284.96,147.1" fill="#f39a1e"/>
<polygon points="298.8,139.4 299.38,140.2 300.32,140.51 299.74,141.31 299.74,142.29 298.8,141.99 297.86,142.29 297.86,141.31 297.28,140.51 298.22,140.2" fill="#55287f"/>
<polygon points="302.27,139.4 302.85,140.2 303.79,140.51 303.21,141.31 303.21,142.29 302.27,141.99 301.33,142.29 301.33,141.31 300.75,140.51 301.69,140.2" fill="#55287f"/>
<polygon points="305.74,139.4 306.32,140.2 307.26,140.51 306.68,141.31 306.68,142.29 305.74,141.99 304.8,142.29 304.8,141.31 304.22,140.51 305.16,140.2" fill="#55287f"/>
<polygon points="309.21,139.4 309.79,140.2 310.73,140.51 310.15,141.31 310.15,142.29 309.21,141.99 308.27,142.29 308.27,141.31 307.69,140.51 308.63,140.2" fill="#55287f"/>
<polygon points="298.8,146.3 299.38,147.1 300.32,147.41 299.74,148.21 299.74,149.19 298.8,148.89 297.86,149.19 297.86,148.21 297.28,147.41 298.22,147.1" fill="#f39a1e"/>
<polygon points="302.27,146.3 302.85,147.1 303.79,147.41 303.21,148.21 303.21,149.19 302.27,148.89 301.33,149.19 301.33,148.21 300.75,147.41 301.69,147.1" fill="#f39a1e"/>
<polygon points="305.74,146.3 306.32,147.1 307.26,147.41 306.68,148.21 306.68,149.19 305.74,148.89 304.8,149.19 304.8,148.21 304.22,147.41 305.16,147.1" fill="#f39a1e"/>
<polygon points="309.21,146.3 309.79,147.1 310.73,147.41 310.15,148.21 310.15,149.19 309.21,148.89 308.27,149.19 308.27,148.21 307.69,147.41 308.63,147.1" fill="#f39a1e"/>
<polygon points="347.1,194.5 347.68,195.3 348.62,195.61 348.04,196.41 348.04,197.39 347.1,197.09 346.16,197.39 346.16,196.41 345.58,195.61 346.52,195.3" fill="#55287f"/>
<polygon points="350.7,194.5 351.28,195.3 352.22,195.61 351.64,196.41 351.64,197.39 350.7,197.09 349.76,197.39 349.76,196.41 349.18,195.61 350.12,195.3" fill="#55287f"/>
<polygon points="354.3,194.5 354.88,195.3 355.82,195.61 355.24,196.41 355.24,197.39 354.3,197.09 353.36,197.39 353.36,196.41 352.78,195.61 353.72,195.3" fill="#55287f"/>
<polygon points="357.9,194.5 358.48,195.3 359.42,195.61 358.84,196.41 358.84,197.39 357.9,197.09 356.96,197.39 356.96,196.41 356.38,195.61 357.32,195.3" fill="#55287f"/>
<polygon points="347.1,201.5 347.68,202.3 348.62,202.61 348.04,203.41 348.04,204.39 347.1,204.09 346.16,204.39 346.16,203.41 345.58,202.61 346.52,202.3" fill="#f39a1e"/>
<polygon points="350.7,201.5 351.28,202.3 352.22,202.61 351.64,203.41 351.64,204.39 350.7,204.09 349.76,204.39 349.76,203.41 349.18,202.61 350.12,202.3" fill="#f39a1e"/>
<polygon points="354.3,201.5 354.88,202.3 355.82,202.61 355.24,203.41 355.24,204.39 354.3,204.09 353.36,204.39 353.36,203.41 352.78,202.61 353.72,202.3" fill="#f39a1e"/>
<polygon points="357.9,201.5 358.48,202.3 359.42,202.61 358.84,203.41 358.84,204.39 357.9,204.09 356.96,204.39 356.96,203.41 356.38,202.61 357.32,202.3" fill="#f39a1e"/>
<line x1="404.4" y1="182.5" x2="415.6" y2="182.5" stroke="#d01f36" stroke-width="1.3" />
<circle cx="410" cy="182.5" r="1.1" fill="#111"/>
<text x="418.5" y="185.5" font-size="8.5" fill="#2a2a2a" textLength="11.5" lengthAdjust="spacingAndGlyphs" >WT</text>
<line x1="404.4" y1="195.2" x2="415.6" y2="195.2" stroke="#55287f" stroke-width="1.3" />
<circle cx="410" cy="195.2" r="1.1" fill="#111"/>
<text x="418.5" y="198.2" font-size="8.5" fill="#2a2a2a" textLength="50" lengthAdjust="spacingAndGlyphs" >PTPN2 sgRNA1</text>
<line x1="404.4" y1="208.1" x2="415.6" y2="208.1" stroke="#f39a1e" stroke-width="1.3" />
<rect x="409" y="207.1" width="2" height="2" fill="#111"/>
<text x="418.5" y="211.1" font-size="8.5" fill="#2a2a2a" textLength="50" lengthAdjust="spacingAndGlyphs" >PTPN2 sgRNA2</text>
<line x1="47.3" y1="63" x2="47.3" y2="212.8" stroke="#5a5a5a" stroke-width="1.2" />
<text x="42.5" y="138.1" font-size="9.4" text-anchor="middle" fill="#444" textLength="40.5" lengthAdjust="spacingAndGlyphs" transform="rotate(-90 42.5 138.1)" >Viability (%)</text>
<line x1="108" y1="249.5" x2="371" y2="249.5" stroke="#5a5a5a" stroke-width="1.2" />
<text x="239.8" y="260.1" font-size="9.5" text-anchor="middle" fill="#333" textLength="49.8" lengthAdjust="spacingAndGlyphs" >Crizotinib (nM)</text>
<line x1="85.5" y1="300.8" x2="85.5" y2="372.8" stroke="#2b2b2b" stroke-width="1.2" />
<line x1="85.5" y1="372.8" x2="191" y2="372.8" stroke="#6a6a6a" stroke-width="1.3" />
<line x1="82.3" y1="372.8" x2="85.5" y2="372.8" stroke="#2b2b2b" stroke-width="1.0" />
<text x="75.5" y="377.1" font-size="8.8" text-anchor="end" fill="#2e2e2e" textLength="21.5" lengthAdjust="spacingAndGlyphs" >1 × 10</text>
<text x="79.4" y="374.1" font-size="5.8" text-anchor="end" fill="#2e2e2e" textLength="3.6" lengthAdjust="spacingAndGlyphs" >0</text>
<line x1="82.3" y1="358.45" x2="85.5" y2="358.45" stroke="#2b2b2b" stroke-width="1.0" />
<text x="75.5" y="362.75" font-size="8.8" text-anchor="end" fill="#2e2e2e" textLength="21.5" lengthAdjust="spacingAndGlyphs" >1 × 10</text>
<text x="79.4" y="359.75" font-size="5.8" text-anchor="end" fill="#2e2e2e" textLength="3.6" lengthAdjust="spacingAndGlyphs" >1</text>
<line x1="82.3" y1="344.1" x2="85.5" y2="344.1" stroke="#2b2b2b" stroke-width="1.0" />
<text x="75.5" y="348.4" font-size="8.8" text-anchor="end" fill="#2e2e2e" textLength="21.5" lengthAdjust="spacingAndGlyphs" >1 × 10</text>
<text x="79.4" y="345.4" font-size="5.8" text-anchor="end" fill="#2e2e2e" textLength="3.6" lengthAdjust="spacingAndGlyphs" >2</text>
<line x1="82.3" y1="329.75" x2="85.5" y2="329.75" stroke="#2b2b2b" stroke-width="1.0" />
<text x="75.5" y="334.05" font-size="8.8" text-anchor="end" fill="#2e2e2e" textLength="21.5" lengthAdjust="spacingAndGlyphs" >1 × 10</text>
<text x="79.4" y="331.05" font-size="5.8" text-anchor="end" fill="#2e2e2e" textLength="3.6" lengthAdjust="spacingAndGlyphs" >3</text>
<line x1="82.3" y1="315.4" x2="85.5" y2="315.4" stroke="#2b2b2b" stroke-width="1.0" />
<text x="75.5" y="319.7" font-size="8.8" text-anchor="end" fill="#2e2e2e" textLength="21.5" lengthAdjust="spacingAndGlyphs" >1 × 10</text>
<text x="79.4" y="316.7" font-size="5.8" text-anchor="end" fill="#2e2e2e" textLength="3.6" lengthAdjust="spacingAndGlyphs" >4</text>
<line x1="82.3" y1="301.05" x2="85.5" y2="301.05" stroke="#2b2b2b" stroke-width="1.0" />
<text x="75.5" y="305.35" font-size="8.8" text-anchor="end" fill="#2e2e2e" textLength="21.5" lengthAdjust="spacingAndGlyphs" >1 × 10</text>
<text x="79.4" y="302.35" font-size="5.8" text-anchor="end" fill="#2e2e2e" textLength="3.6" lengthAdjust="spacingAndGlyphs" >5</text>
<line x1="85.5" y1="372.8" x2="85.5" y2="376" stroke="#2b2b2b" stroke-width="1.0" />
<text x="85.5" y="386.1" font-size="8.6" text-anchor="middle" fill="#2e2e2e" textLength="4.2" lengthAdjust="spacingAndGlyphs" >0</text>
<line x1="99.5" y1="372.8" x2="99.5" y2="376" stroke="#2b2b2b" stroke-width="1.0" />
<text x="99.5" y="386.1" font-size="8.6" text-anchor="middle" fill="#2e2e2e" textLength="4.2" lengthAdjust="spacingAndGlyphs" >2</text>
<line x1="113.5" y1="372.8" x2="113.5" y2="376" stroke="#2b2b2b" stroke-width="1.0" />
<text x="113.5" y="386.1" font-size="8.6" text-anchor="middle" fill="#2e2e2e" textLength="4.2" lengthAdjust="spacingAndGlyphs" >4</text>
<line x1="127.5" y1="372.8" x2="127.5" y2="376" stroke="#2b2b2b" stroke-width="1.0" />
<text x="127.5" y="386.1" font-size="8.6" text-anchor="middle" fill="#2e2e2e" textLength="4.2" lengthAdjust="spacingAndGlyphs" >6</text>
<line x1="141.5" y1="372.8" x2="141.5" y2="376" stroke="#2b2b2b" stroke-width="1.0" />
<text x="141.5" y="386.1" font-size="8.6" text-anchor="middle" fill="#2e2e2e" textLength="4.2" lengthAdjust="spacingAndGlyphs" >8</text>
<line x1="155.5" y1="372.8" x2="155.5" y2="376" stroke="#2b2b2b" stroke-width="1.0" />
<text x="155.5" y="386.1" font-size="8.6" text-anchor="middle" fill="#2e2e2e" textLength="8.4" lengthAdjust="spacingAndGlyphs" >10</text>
<line x1="169.5" y1="372.8" x2="169.5" y2="376" stroke="#2b2b2b" stroke-width="1.0" />
<text x="169.5" y="386.1" font-size="8.6" text-anchor="middle" fill="#2e2e2e" textLength="8.4" lengthAdjust="spacingAndGlyphs" >12</text>
<line x1="183.5" y1="372.8" x2="183.5" y2="376" stroke="#2b2b2b" stroke-width="1.0" />
<text x="183.5" y="386.1" font-size="8.6" text-anchor="middle" fill="#2e2e2e" textLength="8.4" lengthAdjust="spacingAndGlyphs" >14</text>
<text x="137.7" y="289.8" font-size="10.1" text-anchor="middle" fill="#1e1e1e" textLength="26.5" lengthAdjust="spacingAndGlyphs" stroke="#1e1e1e" stroke-width="0.55">TS WT</text>
<polyline points="85.5,368 99.5,363 113.5,354.8 127.5,347 141.5,340.5 155.5,335 169.5,328.6 183.5,320.4" fill="none" stroke="#1e6e5a" stroke-width="1.5" stroke-linejoin="round" />
<polyline points="85.5,368 99.5,363.5 113.5,355 127.5,346.8 141.5,339.8 155.5,333 169.5,326.3 183.5,318.3" fill="none" stroke="#55287f" stroke-width="1.5" stroke-linejoin="round" />
<polyline points="85.5,368 99.5,363.8 113.5,355.2 127.5,347 141.5,338.8 155.5,330.5 169.5,322.4 183.5,312.8" fill="none" stroke="#3cb44a" stroke-width="1.5" stroke-linejoin="round" />
<polyline points="85.5,368 99.5,364.6 113.5,355.3 127.5,346.8 141.5,338 155.5,328.5 169.5,319.8 183.5,310" fill="none" stroke="#f39a1e" stroke-width="1.5" stroke-linejoin="round" />
<polyline points="85.5,368 99.5,365.2 113.5,355.6 127.5,347.4 141.5,338.4 155.5,328.8 169.5,320.4 183.5,310.9" fill="none" stroke="#d01f36" stroke-width="1.5" stroke-linejoin="round" />
<polyline points="85.5,368 99.5,372.6 183.5,372.6" fill="none" stroke="#1e5a96" stroke-width="1.5" stroke-linejoin="round" />
<line x1="99.5" y1="360.5" x2="99.5" y2="367" stroke="#1a1a1a" stroke-width="0.9" />
<line x1="97.9" y1="360.5" x2="101.1" y2="360.5" stroke="#1a1a1a" stroke-width="0.9" />
<line x1="97.9" y1="367" x2="101.1" y2="367" stroke="#1a1a1a" stroke-width="0.9" />
<line x1="113.5" y1="352" x2="113.5" y2="358" stroke="#1a1a1a" stroke-width="0.9" />
<line x1="111.9" y1="352" x2="115.1" y2="352" stroke="#1a1a1a" stroke-width="0.9" />
<line x1="111.9" y1="358" x2="115.1" y2="358" stroke="#1a1a1a" stroke-width="0.9" />
<line x1="127.5" y1="343.3" x2="127.5" y2="350.5" stroke="#1a1a1a" stroke-width="0.9" />
<line x1="125.9" y1="343.3" x2="129.1" y2="343.3" stroke="#1a1a1a" stroke-width="0.9" />
<line x1="125.9" y1="350.5" x2="129.1" y2="350.5" stroke="#1a1a1a" stroke-width="0.9" />
<line x1="141.5" y1="336.3" x2="141.5" y2="345.8" stroke="#1a1a1a" stroke-width="0.9" />
<line x1="139.9" y1="336.3" x2="143.1" y2="336.3" stroke="#1a1a1a" stroke-width="0.9" />
<line x1="139.9" y1="345.8" x2="143.1" y2="345.8" stroke="#1a1a1a" stroke-width="0.9" />
<line x1="155.5" y1="327.5" x2="155.5" y2="338.4" stroke="#1a1a1a" stroke-width="0.9" />
<line x1="153.9" y1="327.5" x2="157.1" y2="327.5" stroke="#1a1a1a" stroke-width="0.9" />
<line x1="153.9" y1="338.4" x2="157.1" y2="338.4" stroke="#1a1a1a" stroke-width="0.9" />
<line x1="169.5" y1="319.5" x2="169.5" y2="332.3" stroke="#1a1a1a" stroke-width="0.9" />
<line x1="167.9" y1="319.5" x2="171.1" y2="319.5" stroke="#1a1a1a" stroke-width="0.9" />
<line x1="167.9" y1="332.3" x2="171.1" y2="332.3" stroke="#1a1a1a" stroke-width="0.9" />
<line x1="183.5" y1="309.2" x2="183.5" y2="323.6" stroke="#1a1a1a" stroke-width="0.9" />
<line x1="181.9" y1="309.2" x2="185.1" y2="309.2" stroke="#1a1a1a" stroke-width="0.9" />
<line x1="181.9" y1="323.6" x2="185.1" y2="323.6" stroke="#1a1a1a" stroke-width="0.9" />
<rect x="98.3" y="364" width="2.4" height="2.4" fill="#151515"/>
<rect x="98.5" y="362.5" width="2.0" height="2.0" fill="#151515"/>
<rect x="112.3" y="354.4" width="2.4" height="2.4" fill="#151515"/>
<rect x="112.5" y="354" width="2.0" height="2.0" fill="#151515"/>
<rect x="126.3" y="346.2" width="2.4" height="2.4" fill="#151515"/>
<rect x="126.5" y="345.8" width="2.0" height="2.0" fill="#151515"/>
<rect x="140.3" y="337.2" width="2.4" height="2.4" fill="#151515"/>
<rect x="140.5" y="338.8" width="2.0" height="2.0" fill="#151515"/>
<rect x="154.3" y="327.6" width="2.4" height="2.4" fill="#151515"/>
<rect x="154.5" y="332" width="2.0" height="2.0" fill="#151515"/>
<rect x="168.3" y="319.2" width="2.4" height="2.4" fill="#151515"/>
<rect x="168.5" y="325.3" width="2.0" height="2.0" fill="#151515"/>
<rect x="182.3" y="309.7" width="2.4" height="2.4" fill="#151515"/>
<rect x="182.5" y="317.3" width="2.0" height="2.0" fill="#151515"/>
<rect x="98.5" y="371.6" width="2.0" height="2.0" fill="#151515"/>
<path d="M188,316.5 H194.5 V371.5 H184" fill="none" stroke="#333" stroke-width="1.0" stroke-dasharray="1 1"/>
<polygon points="197.6,340.7 198.18,341.5 199.12,341.81 198.54,342.61 198.54,343.59 197.6,343.29 196.66,343.59 196.66,342.61 196.08,341.81 197.02,341.5" fill="#1a1a1a"/>
<polygon points="201.1,340.7 201.68,341.5 202.62,341.81 202.04,342.61 202.04,343.59 201.1,343.29 200.16,343.59 200.16,342.61 199.58,341.81 200.52,341.5" fill="#1a1a1a"/>
<polygon points="204.6,340.7 205.18,341.5 206.12,341.81 205.54,342.61 205.54,343.59 204.6,343.29 203.66,343.59 203.66,342.61 203.08,341.81 204.02,341.5" fill="#1a1a1a"/>
<polygon points="208.1,340.7 208.68,341.5 209.62,341.81 209.04,342.61 209.04,343.59 208.1,343.29 207.16,343.59 207.16,342.61 206.58,341.81 207.52,341.5" fill="#1a1a1a"/>
<line x1="265.2" y1="300.8" x2="265.2" y2="372.8" stroke="#2b2b2b" stroke-width="1.2" />
<line x1="265.2" y1="372.8" x2="370" y2="372.8" stroke="#6a6a6a" stroke-width="1.3" />
<line x1="262" y1="372.8" x2="265.2" y2="372.8" stroke="#2b2b2b" stroke-width="1.0" />
<text x="256" y="377.1" font-size="8.8" text-anchor="end" fill="#2e2e2e" textLength="21.5" lengthAdjust="spacingAndGlyphs" >1 × 10</text>
<text x="259.9" y="374.1" font-size="5.8" text-anchor="end" fill="#2e2e2e" textLength="3.6" lengthAdjust="spacingAndGlyphs" >0</text>
<line x1="262" y1="358.45" x2="265.2" y2="358.45" stroke="#2b2b2b" stroke-width="1.0" />
<text x="256" y="362.75" font-size="8.8" text-anchor="end" fill="#2e2e2e" textLength="21.5" lengthAdjust="spacingAndGlyphs" >1 × 10</text>
<text x="259.9" y="359.75" font-size="5.8" text-anchor="end" fill="#2e2e2e" textLength="3.6" lengthAdjust="spacingAndGlyphs" >1</text>
<line x1="262" y1="344.1" x2="265.2" y2="344.1" stroke="#2b2b2b" stroke-width="1.0" />
<text x="256" y="348.4" font-size="8.8" text-anchor="end" fill="#2e2e2e" textLength="21.5" lengthAdjust="spacingAndGlyphs" >1 × 10</text>
<text x="259.9" y="345.4" font-size="5.8" text-anchor="end" fill="#2e2e2e" textLength="3.6" lengthAdjust="spacingAndGlyphs" >2</text>
<line x1="262" y1="329.75" x2="265.2" y2="329.75" stroke="#2b2b2b" stroke-width="1.0" />
<text x="256" y="334.05" font-size="8.8" text-anchor="end" fill="#2e2e2e" textLength="21.5" lengthAdjust="spacingAndGlyphs" >1 × 10</text>
<text x="259.9" y="331.05" font-size="5.8" text-anchor="end" fill="#2e2e2e" textLength="3.6" lengthAdjust="spacingAndGlyphs" >3</text>
<line x1="262" y1="315.4" x2="265.2" y2="315.4" stroke="#2b2b2b" stroke-width="1.0" />
<text x="256" y="319.7" font-size="8.8" text-anchor="end" fill="#2e2e2e" textLength="21.5" lengthAdjust="spacingAndGlyphs" >1 × 10</text>
<text x="259.9" y="316.7" font-size="5.8" text-anchor="end" fill="#2e2e2e" textLength="3.6" lengthAdjust="spacingAndGlyphs" >4</text>
<line x1="262" y1="301.05" x2="265.2" y2="301.05" stroke="#2b2b2b" stroke-width="1.0" />
<text x="256" y="305.35" font-size="8.8" text-anchor="end" fill="#2e2e2e" textLength="21.5" lengthAdjust="spacingAndGlyphs" >1 × 10</text>
<text x="259.9" y="302.35" font-size="5.8" text-anchor="end" fill="#2e2e2e" textLength="3.6" lengthAdjust="spacingAndGlyphs" >5</text>
<line x1="265.2" y1="372.8" x2="265.2" y2="376" stroke="#2b2b2b" stroke-width="1.0" />
<text x="265.2" y="386.1" font-size="8.6" text-anchor="middle" fill="#2e2e2e" textLength="4.2" lengthAdjust="spacingAndGlyphs" >0</text>
<line x1="279.2" y1="372.8" x2="279.2" y2="376" stroke="#2b2b2b" stroke-width="1.0" />
<text x="279.2" y="386.1" font-size="8.6" text-anchor="middle" fill="#2e2e2e" textLength="4.2" lengthAdjust="spacingAndGlyphs" >2</text>
<line x1="293.2" y1="372.8" x2="293.2" y2="376" stroke="#2b2b2b" stroke-width="1.0" />
<text x="293.2" y="386.1" font-size="8.6" text-anchor="middle" fill="#2e2e2e" textLength="4.2" lengthAdjust="spacingAndGlyphs" >4</text>
<line x1="307.2" y1="372.8" x2="307.2" y2="376" stroke="#2b2b2b" stroke-width="1.0" />
<text x="307.2" y="386.1" font-size="8.6" text-anchor="middle" fill="#2e2e2e" textLength="4.2" lengthAdjust="spacingAndGlyphs" >6</text>
<line x1="321.2" y1="372.8" x2="321.2" y2="376" stroke="#2b2b2b" stroke-width="1.0" />
<text x="321.2" y="386.1" font-size="8.6" text-anchor="middle" fill="#2e2e2e" textLength="4.2" lengthAdjust="spacingAndGlyphs" >8</text>
<line x1="335.2" y1="372.8" x2="335.2" y2="376" stroke="#2b2b2b" stroke-width="1.0" />
<text x="335.2" y="386.1" font-size="8.6" text-anchor="middle" fill="#2e2e2e" textLength="8.4" lengthAdjust="spacingAndGlyphs" >10</text>
<line x1="349.2" y1="372.8" x2="349.2" y2="376" stroke="#2b2b2b" stroke-width="1.0" />
<text x="349.2" y="386.1" font-size="8.6" text-anchor="middle" fill="#2e2e2e" textLength="8.4" lengthAdjust="spacingAndGlyphs" >12</text>
<line x1="363.2" y1="372.8" x2="363.2" y2="376" stroke="#2b2b2b" stroke-width="1.0" />
<text x="363.2" y="386.1" font-size="8.6" text-anchor="middle" fill="#2e2e2e" textLength="8.4" lengthAdjust="spacingAndGlyphs" >14</text>
<text x="317.1" y="289.8" font-size="10.1" text-anchor="middle" fill="#1e1e1e" textLength="40.6" lengthAdjust="spacingAndGlyphs" stroke="#1e1e1e" stroke-width="0.55">SU-DHL-1</text>
<polyline points="265.2,368 279.2,364.6 293.2,355.5 307.2,346.8 321.2,337.4 335.2,328 349.2,319.2 363.2,310.5" fill="none" stroke="#d01f36" stroke-width="1.5" stroke-linejoin="round" />
<polyline points="265.2,368 279.2,363.9 293.2,354.5 307.2,345.2 321.2,335.8 335.2,326.7 349.2,317.9 363.2,308.5" fill="none" stroke="#f39a1e" stroke-width="1.5" stroke-linejoin="round" />
<polyline points="265.2,368 279.2,363.2 293.2,353.5 307.2,343.7 321.2,334.3 335.2,325.4 349.2,316.6 363.2,306.5" fill="none" stroke="#3cb44a" stroke-width="1.5" stroke-linejoin="round" />
<polyline points="265.2,368 279.2,362.5 293.2,352.5 307.2,342.1 321.2,332.7 335.2,324 349.2,315.2 363.2,304.4" fill="none" stroke="#1e6e5a" stroke-width="1.5" stroke-linejoin="round" />
<polyline points="265.2,368.5 279.2,367.6 293.2,372.6 363.2,372.6" fill="none" stroke="#1e5a96" stroke-width="1.5" stroke-linejoin="round" />
<line x1="279.2" y1="360" x2="279.2" y2="367" stroke="#1a1a1a" stroke-width="0.9" />
<line x1="277.6" y1="360" x2="280.8" y2="360" stroke="#1a1a1a" stroke-width="0.9" />
<line x1="277.6" y1="367" x2="280.8" y2="367" stroke="#1a1a1a" stroke-width="0.9" />
<line x1="293.2" y1="350.5" x2="293.2" y2="357.5" stroke="#1a1a1a" stroke-width="0.9" />
<line x1="291.6" y1="350.5" x2="294.8" y2="350.5" stroke="#1a1a1a" stroke-width="0.9" />
<line x1="291.6" y1="357.5" x2="294.8" y2="357.5" stroke="#1a1a1a" stroke-width="0.9" />
<line x1="307.2" y1="340.5" x2="307.2" y2="349" stroke="#1a1a1a" stroke-width="0.9" />
<line x1="305.6" y1="340.5" x2="308.8" y2="340.5" stroke="#1a1a1a" stroke-width="0.9" />
<line x1="305.6" y1="349" x2="308.8" y2="349" stroke="#1a1a1a" stroke-width="0.9" />
<line x1="321.2" y1="331" x2="321.2" y2="339.5" stroke="#1a1a1a" stroke-width="0.9" />
<line x1="319.6" y1="331" x2="322.8" y2="331" stroke="#1a1a1a" stroke-width="0.9" />
<line x1="319.6" y1="339.5" x2="322.8" y2="339.5" stroke="#1a1a1a" stroke-width="0.9" />
<line x1="335.2" y1="322.5" x2="335.2" y2="330" stroke="#1a1a1a" stroke-width="0.9" />
<line x1="333.6" y1="322.5" x2="336.8" y2="322.5" stroke="#1a1a1a" stroke-width="0.9" />
<line x1="333.6" y1="330" x2="336.8" y2="330" stroke="#1a1a1a" stroke-width="0.9" />
<line x1="349.2" y1="313.5" x2="349.2" y2="321" stroke="#1a1a1a" stroke-width="0.9" />
<line x1="347.6" y1="313.5" x2="350.8" y2="313.5" stroke="#1a1a1a" stroke-width="0.9" />
<line x1="347.6" y1="321" x2="350.8" y2="321" stroke="#1a1a1a" stroke-width="0.9" />
<line x1="363.2" y1="302" x2="363.2" y2="313" stroke="#1a1a1a" stroke-width="0.9" />
<line x1="361.6" y1="302" x2="364.8" y2="302" stroke="#1a1a1a" stroke-width="0.9" />
<line x1="361.6" y1="313" x2="364.8" y2="313" stroke="#1a1a1a" stroke-width="0.9" />
<rect x="278.1" y="361.4" width="2.2" height="2.2" fill="#151515"/>
<rect x="278.1" y="363.5" width="2.2" height="2.2" fill="#151515"/>
<rect x="292.1" y="351.4" width="2.2" height="2.2" fill="#151515"/>
<rect x="292.1" y="354.4" width="2.2" height="2.2" fill="#151515"/>
<rect x="306.1" y="341" width="2.2" height="2.2" fill="#151515"/>
<rect x="306.1" y="345.7" width="2.2" height="2.2" fill="#151515"/>
<rect x="320.1" y="331.6" width="2.2" height="2.2" fill="#151515"/>
<rect x="320.1" y="336.3" width="2.2" height="2.2" fill="#151515"/>
<rect x="334.1" y="322.9" width="2.2" height="2.2" fill="#151515"/>
<rect x="334.1" y="326.9" width="2.2" height="2.2" fill="#151515"/>
<rect x="348.1" y="314.1" width="2.2" height="2.2" fill="#151515"/>
<rect x="348.1" y="318.1" width="2.2" height="2.2" fill="#151515"/>
<rect x="362.1" y="303.3" width="2.2" height="2.2" fill="#151515"/>
<rect x="362.1" y="309.4" width="2.2" height="2.2" fill="#151515"/>
<rect x="278.2" y="371.6" width="2.0" height="2.0" fill="#151515"/>
<path d="M365.4,304.5 H373.5 V370 H367.7" fill="none" stroke="#333" stroke-width="1.0" stroke-dasharray="1 1"/>
<polygon points="376.2,334.1 376.78,334.9 377.72,335.21 377.14,336.01 377.14,336.99 376.2,336.69 375.26,336.99 375.26,336.01 374.68,335.21 375.62,334.9" fill="#1a1a1a"/>
<polygon points="379.7,334.1 380.28,334.9 381.22,335.21 380.64,336.01 380.64,336.99 379.7,336.69 378.76,336.99 378.76,336.01 378.18,335.21 379.12,334.9" fill="#1a1a1a"/>
<polygon points="383.2,334.1 383.78,334.9 384.72,335.21 384.14,336.01 384.14,336.99 383.2,336.69 382.26,336.99 382.26,336.01 381.68,335.21 382.62,334.9" fill="#1a1a1a"/>
<polygon points="386.7,334.1 387.28,334.9 388.22,335.21 387.64,336.01 387.64,336.99 386.7,336.69 385.76,336.99 385.76,336.01 385.18,335.21 386.12,334.9" fill="#1a1a1a"/>
<line x1="404.6" y1="315.4" x2="413.5" y2="315.4" stroke="#d01f36" stroke-width="1.6" />
<text x="417.3" y="318.4" font-size="8.7" fill="#2a2a2a" textLength="42.3" lengthAdjust="spacingAndGlyphs" >WT + vehicle</text>
<line x1="404.6" y1="325.62" x2="413.5" y2="325.62" stroke="#1e5a96" stroke-width="1.6" />
<text x="417.3" y="328.62" font-size="8.7" fill="#2a2a2a" textLength="45.6" lengthAdjust="spacingAndGlyphs" >WT + crizotinib</text>
<line x1="404.6" y1="335.84" x2="413.5" y2="335.84" stroke="#3cb44a" stroke-width="1.6" />
<text x="417.3" y="338.84" font-size="8.7" fill="#2a2a2a" textLength="85.5" lengthAdjust="spacingAndGlyphs" >PTPN1 sgRNA1 + vehicle</text>
<line x1="404.6" y1="346.06" x2="413.5" y2="346.06" stroke="#55287f" stroke-width="1.6" />
<text x="417.3" y="349.06" font-size="8.7" fill="#2a2a2a" textLength="91" lengthAdjust="spacingAndGlyphs" >PTPN1 sgRNA1 + crizotinib</text>
<line x1="404.6" y1="356.28" x2="413.5" y2="356.28" stroke="#f39a1e" stroke-width="1.6" />
<text x="417.3" y="359.28" font-size="8.7" fill="#2a2a2a" textLength="85.5" lengthAdjust="spacingAndGlyphs" >PTPN1 sgRNA2 + vehicle</text>
<line x1="404.6" y1="366.5" x2="413.5" y2="366.5" stroke="#1e6e5a" stroke-width="1.6" />
<text x="417.3" y="369.5" font-size="8.7" fill="#2a2a2a" textLength="91" lengthAdjust="spacingAndGlyphs" >PTPN1 sgRNA2 + crizotinib</text>
<line x1="85" y1="389.2" x2="85" y2="461.1" stroke="#2b2b2b" stroke-width="1.2" />
<line x1="85" y1="461.1" x2="182" y2="461.1" stroke="#6a6a6a" stroke-width="1.3" />
<line x1="81.8" y1="461.1" x2="85" y2="461.1" stroke="#2b2b2b" stroke-width="1.0" />
<text x="75.3" y="465.4" font-size="8.8" text-anchor="end" fill="#2e2e2e" textLength="21.5" lengthAdjust="spacingAndGlyphs" >1 × 10</text>
<text x="79.2" y="462.4" font-size="5.8" text-anchor="end" fill="#2e2e2e" textLength="3.6" lengthAdjust="spacingAndGlyphs" >0</text>
<line x1="81.8" y1="446.67" x2="85" y2="446.67" stroke="#2b2b2b" stroke-width="1.0" />
<text x="75.3" y="450.97" font-size="8.8" text-anchor="end" fill="#2e2e2e" textLength="21.5" lengthAdjust="spacingAndGlyphs" >1 × 10</text>
<text x="79.2" y="447.97" font-size="5.8" text-anchor="end" fill="#2e2e2e" textLength="3.6" lengthAdjust="spacingAndGlyphs" >1</text>
<line x1="81.8" y1="432.24" x2="85" y2="432.24" stroke="#2b2b2b" stroke-width="1.0" />
<text x="75.3" y="436.54" font-size="8.8" text-anchor="end" fill="#2e2e2e" textLength="21.5" lengthAdjust="spacingAndGlyphs" >1 × 10</text>
<text x="79.2" y="433.54" font-size="5.8" text-anchor="end" fill="#2e2e2e" textLength="3.6" lengthAdjust="spacingAndGlyphs" >2</text>
<line x1="81.8" y1="417.81" x2="85" y2="417.81" stroke="#2b2b2b" stroke-width="1.0" />
<text x="75.3" y="422.11" font-size="8.8" text-anchor="end" fill="#2e2e2e" textLength="21.5" lengthAdjust="spacingAndGlyphs" >1 × 10</text>
<text x="79.2" y="419.11" font-size="5.8" text-anchor="end" fill="#2e2e2e" textLength="3.6" lengthAdjust="spacingAndGlyphs" >3</text>
<line x1="81.8" y1="403.38" x2="85" y2="403.38" stroke="#2b2b2b" stroke-width="1.0" />
<text x="75.3" y="407.68" font-size="8.8" text-anchor="end" fill="#2e2e2e" textLength="21.5" lengthAdjust="spacingAndGlyphs" >1 × 10</text>
<text x="79.2" y="404.68" font-size="5.8" text-anchor="end" fill="#2e2e2e" textLength="3.6" lengthAdjust="spacingAndGlyphs" >4</text>
<line x1="81.8" y1="388.95" x2="85" y2="388.95" stroke="#2b2b2b" stroke-width="1.0" />
<text x="75.3" y="393.25" font-size="8.8" text-anchor="end" fill="#2e2e2e" textLength="21.5" lengthAdjust="spacingAndGlyphs" >1 × 10</text>
<text x="79.2" y="390.25" font-size="5.8" text-anchor="end" fill="#2e2e2e" textLength="3.6" lengthAdjust="spacingAndGlyphs" >5</text>
<line x1="85" y1="461.1" x2="85" y2="464.3" stroke="#2b2b2b" stroke-width="1.0" />
<text x="85" y="474.4" font-size="8.6" text-anchor="middle" fill="#2e2e2e" textLength="4.2" lengthAdjust="spacingAndGlyphs" >0</text>
<line x1="98" y1="461.1" x2="98" y2="464.3" stroke="#2b2b2b" stroke-width="1.0" />
<text x="98" y="474.4" font-size="8.6" text-anchor="middle" fill="#2e2e2e" textLength="4.2" lengthAdjust="spacingAndGlyphs" >2</text>
<line x1="111" y1="461.1" x2="111" y2="464.3" stroke="#2b2b2b" stroke-width="1.0" />
<text x="111" y="474.4" font-size="8.6" text-anchor="middle" fill="#2e2e2e" textLength="4.2" lengthAdjust="spacingAndGlyphs" >4</text>
<line x1="124" y1="461.1" x2="124" y2="464.3" stroke="#2b2b2b" stroke-width="1.0" />
<text x="124" y="474.4" font-size="8.6" text-anchor="middle" fill="#2e2e2e" textLength="4.2" lengthAdjust="spacingAndGlyphs" >6</text>
<line x1="137" y1="461.1" x2="137" y2="464.3" stroke="#2b2b2b" stroke-width="1.0" />
<text x="137" y="474.4" font-size="8.6" text-anchor="middle" fill="#2e2e2e" textLength="4.2" lengthAdjust="spacingAndGlyphs" >8</text>
<line x1="150" y1="461.1" x2="150" y2="464.3" stroke="#2b2b2b" stroke-width="1.0" />
<text x="150" y="474.4" font-size="8.6" text-anchor="middle" fill="#2e2e2e" textLength="8.4" lengthAdjust="spacingAndGlyphs" >10</text>
<line x1="163" y1="461.1" x2="163" y2="464.3" stroke="#2b2b2b" stroke-width="1.0" />
<text x="163" y="474.4" font-size="8.6" text-anchor="middle" fill="#2e2e2e" textLength="8.4" lengthAdjust="spacingAndGlyphs" >12</text>
<line x1="176" y1="461.1" x2="176" y2="464.3" stroke="#2b2b2b" stroke-width="1.0" />
<text x="176" y="474.4" font-size="8.6" text-anchor="middle" fill="#2e2e2e" textLength="8.4" lengthAdjust="spacingAndGlyphs" >14</text>
<polyline points="85,457.2 98,454 111,444.5 124,435.3 137,426 150,417.8 163,409.5 176,401" fill="none" stroke="#8c86d0" stroke-width="1.5" stroke-linejoin="round" />
<polyline points="85,457.2 98,452.3 111,443.7 124,433.8 137,425.2 150,416.9 163,406.8 176,395.7" fill="none" stroke="#2aa9e0" stroke-width="1.5" stroke-linejoin="round" />
<polyline points="85,457.2 98,454 111,446.5 124,444.2 137,438.5 150,433.3 163,429.7 176,423.4" fill="none" stroke="#3d4f6b" stroke-width="1.5" stroke-linejoin="round" />
<polyline points="85,457.2 98,454.3 111,446 124,443.1 137,436.7 150,429 163,420.7 176,409.5" fill="none" stroke="#e5198a" stroke-width="1.5" stroke-linejoin="round" />
<polyline points="85,457.2 98,454.6 111,444.8 124,435.6 137,426.3 150,417.6 163,408.8 176,400.5" fill="none" stroke="#d01f36" stroke-width="1.5" stroke-linejoin="round" />
<polyline points="85,457.2 98,461 176,461" fill="none" stroke="#1e5a96" stroke-width="1.5" stroke-linejoin="round" />
<rect x="96.9" y="452.5" width="2.2" height="2.2" fill="#151515"/>
<rect x="109.9" y="442.7" width="2.2" height="2.2" fill="#151515"/>
<rect x="122.9" y="433.5" width="2.2" height="2.2" fill="#151515"/>
<rect x="135.9" y="424.2" width="2.2" height="2.2" fill="#151515"/>
<rect x="148.9" y="415.5" width="2.2" height="2.2" fill="#151515"/>
<rect x="161.9" y="406.7" width="2.2" height="2.2" fill="#151515"/>
<rect x="174.9" y="398.4" width="2.2" height="2.2" fill="#151515"/>
<line x1="111" y1="440" x2="111" y2="450" stroke="#1a1a1a" stroke-width="0.9" />
<line x1="109.4" y1="440" x2="112.6" y2="440" stroke="#1a1a1a" stroke-width="0.9" />
<line x1="109.4" y1="450" x2="112.6" y2="450" stroke="#1a1a1a" stroke-width="0.9" />
<line x1="124" y1="440.5" x2="124" y2="447.5" stroke="#1a1a1a" stroke-width="0.9" />
<line x1="122.4" y1="440.5" x2="125.6" y2="440.5" stroke="#1a1a1a" stroke-width="0.9" />
<line x1="122.4" y1="447.5" x2="125.6" y2="447.5" stroke="#1a1a1a" stroke-width="0.9" />
<line x1="137" y1="434" x2="137" y2="440" stroke="#1a1a1a" stroke-width="0.9" />
<line x1="135.4" y1="434" x2="138.6" y2="434" stroke="#1a1a1a" stroke-width="0.9" />
<line x1="135.4" y1="440" x2="138.6" y2="440" stroke="#1a1a1a" stroke-width="0.9" />
<line x1="150" y1="427" x2="150" y2="436" stroke="#1a1a1a" stroke-width="0.9" />
<line x1="148.4" y1="427" x2="151.6" y2="427" stroke="#1a1a1a" stroke-width="0.9" />
<line x1="148.4" y1="436" x2="151.6" y2="436" stroke="#1a1a1a" stroke-width="0.9" />
<line x1="163" y1="416" x2="163" y2="425" stroke="#1a1a1a" stroke-width="0.9" />
<line x1="161.4" y1="416" x2="164.6" y2="416" stroke="#1a1a1a" stroke-width="0.9" />
<line x1="161.4" y1="425" x2="164.6" y2="425" stroke="#1a1a1a" stroke-width="0.9" />
<line x1="176" y1="405" x2="176" y2="415" stroke="#1a1a1a" stroke-width="0.9" />
<line x1="174.4" y1="405" x2="177.6" y2="405" stroke="#1a1a1a" stroke-width="0.9" />
<line x1="174.4" y1="415" x2="177.6" y2="415" stroke="#1a1a1a" stroke-width="0.9" />
<line x1="137" y1="436" x2="137" y2="441" stroke="#1a1a1a" stroke-width="0.9" />
<line x1="135.4" y1="436" x2="138.6" y2="436" stroke="#1a1a1a" stroke-width="0.9" />
<line x1="135.4" y1="441" x2="138.6" y2="441" stroke="#1a1a1a" stroke-width="0.9" />
<line x1="150" y1="430" x2="150" y2="436" stroke="#1a1a1a" stroke-width="0.9" />
<line x1="148.4" y1="430" x2="151.6" y2="430" stroke="#1a1a1a" stroke-width="0.9" />
<line x1="148.4" y1="436" x2="151.6" y2="436" stroke="#1a1a1a" stroke-width="0.9" />
<line x1="163" y1="426" x2="163" y2="432" stroke="#1a1a1a" stroke-width="0.9" />
<line x1="161.4" y1="426" x2="164.6" y2="426" stroke="#1a1a1a" stroke-width="0.9" />
<line x1="161.4" y1="432" x2="164.6" y2="432" stroke="#1a1a1a" stroke-width="0.9" />
<line x1="176" y1="420" x2="176" y2="428" stroke="#1a1a1a" stroke-width="0.9" />
<line x1="174.4" y1="420" x2="177.6" y2="420" stroke="#1a1a1a" stroke-width="0.9" />
<line x1="174.4" y1="428" x2="177.6" y2="428" stroke="#1a1a1a" stroke-width="0.9" />
<line x1="176" y1="392.5" x2="176" y2="398" stroke="#1a1a1a" stroke-width="0.9" />
<line x1="174.4" y1="392.5" x2="177.6" y2="392.5" stroke="#1a1a1a" stroke-width="0.9" />
<line x1="174.4" y1="398" x2="177.6" y2="398" stroke="#1a1a1a" stroke-width="0.9" />
<path d="M177.6,400.2 H194.5 V460.2 H183.4" fill="none" stroke="#333" stroke-width="1.0" stroke-dasharray="1 1"/>
<path d="M177.6,410.5 H185.5 V460.2 M177.6,423 H185.5" fill="none" stroke="#333" stroke-width="1.0" stroke-dasharray="1 1"/>
<polygon points="188.4,432.2 188.98,433 189.92,433.31 189.34,434.11 189.34,435.09 188.4,434.79 187.46,435.09 187.46,434.11 186.88,433.31 187.82,433" fill="#1a1a1a"/>
<polygon points="191.9,432.2 192.48,433 193.42,433.31 192.84,434.11 192.84,435.09 191.9,434.79 190.96,435.09 190.96,434.11 190.38,433.31 191.32,433" fill="#1a1a1a"/>
<polygon points="198.3,428.7 198.88,429.5 199.82,429.81 199.24,430.61 199.24,431.59 198.3,431.29 197.36,431.59 197.36,430.61 196.78,429.81 197.72,429.5" fill="#1a1a1a"/>
<polygon points="201.8,428.7 202.38,429.5 203.32,429.81 202.74,430.61 202.74,431.59 201.8,431.29 200.86,431.59 200.86,430.61 200.28,429.81 201.22,429.5" fill="#1a1a1a"/>
<polygon points="205.3,428.7 205.88,429.5 206.82,429.81 206.24,430.61 206.24,431.59 205.3,431.29 204.36,431.59 204.36,430.61 203.78,429.81 204.72,429.5" fill="#1a1a1a"/>
<polygon points="208.8,428.7 209.38,429.5 210.32,429.81 209.74,430.61 209.74,431.59 208.8,431.29 207.86,431.59 207.86,430.61 207.28,429.81 208.22,429.5" fill="#1a1a1a"/>
<line x1="265.1" y1="389.6" x2="265.1" y2="461.4" stroke="#2b2b2b" stroke-width="1.2" />
<line x1="265.1" y1="461.4" x2="370" y2="461.4" stroke="#6a6a6a" stroke-width="1.3" />
<line x1="261.9" y1="461.4" x2="265.1" y2="461.4" stroke="#2b2b2b" stroke-width="1.0" />
<text x="256" y="465.7" font-size="8.8" text-anchor="end" fill="#2e2e2e" textLength="21.5" lengthAdjust="spacingAndGlyphs" >1 × 10</text>
<text x="259.9" y="462.7" font-size="5.8" text-anchor="end" fill="#2e2e2e" textLength="3.6" lengthAdjust="spacingAndGlyphs" >0</text>
<line x1="261.9" y1="446.97" x2="265.1" y2="446.97" stroke="#2b2b2b" stroke-width="1.0" />
<text x="256" y="451.27" font-size="8.8" text-anchor="end" fill="#2e2e2e" textLength="21.5" lengthAdjust="spacingAndGlyphs" >1 × 10</text>
<text x="259.9" y="448.27" font-size="5.8" text-anchor="end" fill="#2e2e2e" textLength="3.6" lengthAdjust="spacingAndGlyphs" >1</text>
<line x1="261.9" y1="432.54" x2="265.1" y2="432.54" stroke="#2b2b2b" stroke-width="1.0" />
<text x="256" y="436.84" font-size="8.8" text-anchor="end" fill="#2e2e2e" textLength="21.5" lengthAdjust="spacingAndGlyphs" >1 × 10</text>
<text x="259.9" y="433.84" font-size="5.8" text-anchor="end" fill="#2e2e2e" textLength="3.6" lengthAdjust="spacingAndGlyphs" >2</text>
<line x1="261.9" y1="418.11" x2="265.1" y2="418.11" stroke="#2b2b2b" stroke-width="1.0" />
<text x="256" y="422.41" font-size="8.8" text-anchor="end" fill="#2e2e2e" textLength="21.5" lengthAdjust="spacingAndGlyphs" >1 × 10</text>
<text x="259.9" y="419.41" font-size="5.8" text-anchor="end" fill="#2e2e2e" textLength="3.6" lengthAdjust="spacingAndGlyphs" >3</text>
<line x1="261.9" y1="403.68" x2="265.1" y2="403.68" stroke="#2b2b2b" stroke-width="1.0" />
<text x="256" y="407.98" font-size="8.8" text-anchor="end" fill="#2e2e2e" textLength="21.5" lengthAdjust="spacingAndGlyphs" >1 × 10</text>
<text x="259.9" y="404.98" font-size="5.8" text-anchor="end" fill="#2e2e2e" textLength="3.6" lengthAdjust="spacingAndGlyphs" >4</text>
<line x1="261.9" y1="389.25" x2="265.1" y2="389.25" stroke="#2b2b2b" stroke-width="1.0" />
<text x="256" y="393.55" font-size="8.8" text-anchor="end" fill="#2e2e2e" textLength="21.5" lengthAdjust="spacingAndGlyphs" >1 × 10</text>
<text x="259.9" y="390.55" font-size="5.8" text-anchor="end" fill="#2e2e2e" textLength="3.6" lengthAdjust="spacingAndGlyphs" >5</text>
<line x1="265.1" y1="461.4" x2="265.1" y2="464.6" stroke="#2b2b2b" stroke-width="1.0" />
<text x="265.1" y="474.7" font-size="8.6" text-anchor="middle" fill="#2e2e2e" textLength="4.2" lengthAdjust="spacingAndGlyphs" >0</text>
<line x1="279.1" y1="461.4" x2="279.1" y2="464.6" stroke="#2b2b2b" stroke-width="1.0" />
<text x="279.1" y="474.7" font-size="8.6" text-anchor="middle" fill="#2e2e2e" textLength="4.2" lengthAdjust="spacingAndGlyphs" >2</text>
<line x1="293.1" y1="461.4" x2="293.1" y2="464.6" stroke="#2b2b2b" stroke-width="1.0" />
<text x="293.1" y="474.7" font-size="8.6" text-anchor="middle" fill="#2e2e2e" textLength="4.2" lengthAdjust="spacingAndGlyphs" >4</text>
<line x1="307.1" y1="461.4" x2="307.1" y2="464.6" stroke="#2b2b2b" stroke-width="1.0" />
<text x="307.1" y="474.7" font-size="8.6" text-anchor="middle" fill="#2e2e2e" textLength="4.2" lengthAdjust="spacingAndGlyphs" >6</text>
<line x1="321.1" y1="461.4" x2="321.1" y2="464.6" stroke="#2b2b2b" stroke-width="1.0" />
<text x="321.1" y="474.7" font-size="8.6" text-anchor="middle" fill="#2e2e2e" textLength="4.2" lengthAdjust="spacingAndGlyphs" >8</text>
<line x1="335.1" y1="461.4" x2="335.1" y2="464.6" stroke="#2b2b2b" stroke-width="1.0" />
<text x="335.1" y="474.7" font-size="8.6" text-anchor="middle" fill="#2e2e2e" textLength="8.4" lengthAdjust="spacingAndGlyphs" >10</text>
<line x1="349.1" y1="461.4" x2="349.1" y2="464.6" stroke="#2b2b2b" stroke-width="1.0" />
<text x="349.1" y="474.7" font-size="8.6" text-anchor="middle" fill="#2e2e2e" textLength="8.4" lengthAdjust="spacingAndGlyphs" >12</text>
<line x1="363.1" y1="461.4" x2="363.1" y2="464.6" stroke="#2b2b2b" stroke-width="1.0" />
<text x="363.1" y="474.7" font-size="8.6" text-anchor="middle" fill="#2e2e2e" textLength="8.4" lengthAdjust="spacingAndGlyphs" >14</text>
<polyline points="265.1,457.2 279.1,453.2 293.1,445 307.1,435.9 321.1,426 335.1,416.6 349.1,407.2 363.1,398.5" fill="none" stroke="#d01f36" stroke-width="1.5" stroke-linejoin="round" />
<polyline points="265.1,457.2 279.1,452 293.1,443.5 307.1,433.5 321.1,424 335.1,414.5 349.1,405 363.1,396" fill="none" stroke="#e5198a" stroke-width="1.5" stroke-linejoin="round" />
<polyline points="265.1,457.2 279.1,451.8 293.1,443 307.1,433 321.1,423.5 335.1,414 349.1,404.5 363.1,394.4" fill="none" stroke="#8c86d0" stroke-width="1.5" stroke-linejoin="round" />
<polyline points="265.1,457.2 279.1,450.8 293.1,441.8 307.1,431.4 321.1,422.4 335.1,413.3 349.1,403.8 363.1,393.5" fill="none" stroke="#2aa9e0" stroke-width="1.5" stroke-linejoin="round" />
<polyline points="265.1,457.2 279.1,451 293.1,442 307.1,431.8 321.1,422.8 335.1,413.6 349.1,403.8 363.1,391.7" fill="none" stroke="#3d4f6b" stroke-width="1.5" stroke-linejoin="round" />
<polyline points="265.1,457.2 279.1,455.5 293.1,461.2 363.1,461.2" fill="none" stroke="#1e5a96" stroke-width="1.5" stroke-linejoin="round" />
<line x1="279.1" y1="449" x2="279.1" y2="455" stroke="#1a1a1a" stroke-width="0.9" />
<line x1="277.5" y1="449" x2="280.7" y2="449" stroke="#1a1a1a" stroke-width="0.9" />
<line x1="277.5" y1="455" x2="280.7" y2="455" stroke="#1a1a1a" stroke-width="0.9" />
<line x1="293.1" y1="440" x2="293.1" y2="447" stroke="#1a1a1a" stroke-width="0.9" />
<line x1="291.5" y1="440" x2="294.7" y2="440" stroke="#1a1a1a" stroke-width="0.9" />
<line x1="291.5" y1="447" x2="294.7" y2="447" stroke="#1a1a1a" stroke-width="0.9" />
<line x1="307.1" y1="430" x2="307.1" y2="438" stroke="#1a1a1a" stroke-width="0.9" />
<line x1="305.5" y1="430" x2="308.7" y2="430" stroke="#1a1a1a" stroke-width="0.9" />
<line x1="305.5" y1="438" x2="308.7" y2="438" stroke="#1a1a1a" stroke-width="0.9" />
<line x1="321.1" y1="420" x2="321.1" y2="428" stroke="#1a1a1a" stroke-width="0.9" />
<line x1="319.5" y1="420" x2="322.7" y2="420" stroke="#1a1a1a" stroke-width="0.9" />
<line x1="319.5" y1="428" x2="322.7" y2="428" stroke="#1a1a1a" stroke-width="0.9" />
<line x1="335.1" y1="411" x2="335.1" y2="418" stroke="#1a1a1a" stroke-width="0.9" />
<line x1="333.5" y1="411" x2="336.7" y2="411" stroke="#1a1a1a" stroke-width="0.9" />
<line x1="333.5" y1="418" x2="336.7" y2="418" stroke="#1a1a1a" stroke-width="0.9" />
<line x1="349.1" y1="401" x2="349.1" y2="409" stroke="#1a1a1a" stroke-width="0.9" />
<line x1="347.5" y1="401" x2="350.7" y2="401" stroke="#1a1a1a" stroke-width="0.9" />
<line x1="347.5" y1="409" x2="350.7" y2="409" stroke="#1a1a1a" stroke-width="0.9" />
<line x1="363.1" y1="390" x2="363.1" y2="399" stroke="#1a1a1a" stroke-width="0.9" />
<line x1="361.5" y1="390" x2="364.7" y2="390" stroke="#1a1a1a" stroke-width="0.9" />
<line x1="361.5" y1="399" x2="364.7" y2="399" stroke="#1a1a1a" stroke-width="0.9" />
<rect x="278" y="449.7" width="2.2" height="2.2" fill="#151515"/>
<rect x="278.15" y="452.75" width="1.9" height="1.9" fill="#151515"/>
<rect x="292" y="440.7" width="2.2" height="2.2" fill="#151515"/>
<rect x="292.15" y="444.55" width="1.9" height="1.9" fill="#151515"/>
<rect x="306" y="430.3" width="2.2" height="2.2" fill="#151515"/>
<rect x="306.15" y="435.45" width="1.9" height="1.9" fill="#151515"/>
<rect x="320" y="421.3" width="2.2" height="2.2" fill="#151515"/>
<rect x="320.15" y="425.55" width="1.9" height="1.9" fill="#151515"/>
<rect x="334" y="412.2" width="2.2" height="2.2" fill="#151515"/>
<rect x="334.15" y="416.15" width="1.9" height="1.9" fill="#151515"/>
<rect x="348" y="402.7" width="2.2" height="2.2" fill="#151515"/>
<rect x="348.15" y="406.75" width="1.9" height="1.9" fill="#151515"/>
<rect x="362" y="392.4" width="2.2" height="2.2" fill="#151515"/>
<rect x="362.15" y="398.05" width="1.9" height="1.9" fill="#151515"/>
<rect x="278.1" y="460.2" width="2.0" height="2.0" fill="#151515"/>
<path d="M366,395.4 H373.5 V461 H368" fill="none" stroke="#333" stroke-width="1.0" stroke-dasharray="1 1"/>
<polygon points="376.2,426.1 376.78,426.9 377.72,427.21 377.14,428.01 377.14,428.99 376.2,428.69 375.26,428.99 375.26,428.01 374.68,427.21 375.62,426.9" fill="#1a1a1a"/>
<polygon points="379.7,426.1 380.28,426.9 381.22,427.21 380.64,428.01 380.64,428.99 379.7,428.69 378.76,428.99 378.76,428.01 378.18,427.21 379.12,426.9" fill="#1a1a1a"/>
<polygon points="383.2,426.1 383.78,426.9 384.72,427.21 384.14,428.01 384.14,428.99 383.2,428.69 382.26,428.99 382.26,428.01 381.68,427.21 382.62,426.9" fill="#1a1a1a"/>
<polygon points="386.7,426.1 387.28,426.9 388.22,427.21 387.64,428.01 387.64,428.99 386.7,428.69 385.76,428.99 385.76,428.01 385.18,427.21 386.12,426.9" fill="#1a1a1a"/>
<line x1="404.2" y1="405.3" x2="412.8" y2="405.3" stroke="#d01f36" stroke-width="1.6" />
<text x="416.9" y="408.3" font-size="8.7" fill="#2a2a2a" textLength="42.3" lengthAdjust="spacingAndGlyphs" >WT + vehicle</text>
<line x1="404.2" y1="415.8" x2="412.8" y2="415.8" stroke="#1e5a96" stroke-width="1.6" />
<text x="416.9" y="418.8" font-size="8.7" fill="#2a2a2a" textLength="45.6" lengthAdjust="spacingAndGlyphs" >WT + crizotinib</text>
<line x1="404.2" y1="426.3" x2="412.8" y2="426.3" stroke="#8c86d0" stroke-width="1.6" />
<text x="416.9" y="429.3" font-size="8.7" fill="#2a2a2a" textLength="85.5" lengthAdjust="spacingAndGlyphs" >PTPN2 sgRNA1 + vehicle</text>
<line x1="404.2" y1="436.8" x2="412.8" y2="436.8" stroke="#3d4f6b" stroke-width="1.6" />
<text x="416.9" y="439.8" font-size="8.7" fill="#2a2a2a" textLength="91.5" lengthAdjust="spacingAndGlyphs" >PTPN2 sgRNA1 + crizotinib</text>
<line x1="404.2" y1="447.3" x2="412.8" y2="447.3" stroke="#2aa9e0" stroke-width="1.6" />
<text x="416.9" y="450.3" font-size="8.7" fill="#2a2a2a" textLength="85.5" lengthAdjust="spacingAndGlyphs" >PTPN2 sgRNA2 + vehicle</text>
<line x1="404.2" y1="457.8" x2="412.8" y2="457.8" stroke="#e5198a" stroke-width="1.6" />
<text x="416.9" y="460.8" font-size="8.7" fill="#2a2a2a" textLength="91.5" lengthAdjust="spacingAndGlyphs" >PTPN2 sgRNA2 + crizotinib</text>
<line x1="47.5" y1="315" x2="47.5" y2="449.8" stroke="#5a5a5a" stroke-width="1.2" />
<text x="43.3" y="382.6" font-size="9.6" text-anchor="middle" fill="#333" textLength="41.4" lengthAdjust="spacingAndGlyphs" transform="rotate(-90 43.3 382.6)" >Cell number</text>
<line x1="100.2" y1="476.5" x2="350" y2="476.5" stroke="#5a5a5a" stroke-width="1.2" />
<text x="225.4" y="486.2" font-size="9.6" text-anchor="middle" fill="#333" textLength="15.5" lengthAdjust="spacingAndGlyphs" >Days</text>
<line x1="84.6" y1="513.8" x2="84.6" y2="621.3" stroke="#2b2b2b" stroke-width="1.0" />
<line x1="84.6" y1="621.3" x2="245.5" y2="621.3" stroke="#2b2b2b" stroke-width="1.0" />
<line x1="81.6" y1="621.3" x2="84.6" y2="621.3" stroke="#2b2b2b" stroke-width="0.9" />
<text x="78" y="624.3" font-size="8.6" text-anchor="end" fill="#2e2e2e" textLength="4.1" lengthAdjust="spacingAndGlyphs" >0</text>
<line x1="81.6" y1="594.51" x2="84.6" y2="594.51" stroke="#2b2b2b" stroke-width="0.9" />
<text x="78" y="597.51" font-size="8.6" text-anchor="end" fill="#2e2e2e" textLength="12.3" lengthAdjust="spacingAndGlyphs" >300</text>
<line x1="81.6" y1="567.72" x2="84.6" y2="567.72" stroke="#2b2b2b" stroke-width="0.9" />
<text x="78" y="570.72" font-size="8.6" text-anchor="end" fill="#2e2e2e" textLength="12.3" lengthAdjust="spacingAndGlyphs" >600</text>
<line x1="81.6" y1="540.93" x2="84.6" y2="540.93" stroke="#2b2b2b" stroke-width="0.9" />
<text x="78" y="543.93" font-size="8.6" text-anchor="end" fill="#2e2e2e" textLength="12.3" lengthAdjust="spacingAndGlyphs" >900</text>
<line x1="81.6" y1="514.14" x2="84.6" y2="514.14" stroke="#2b2b2b" stroke-width="0.9" />
<text x="78" y="517.14" font-size="8.6" text-anchor="end" fill="#2e2e2e" textLength="16.4" lengthAdjust="spacingAndGlyphs" >1200</text>
<line x1="84.6" y1="621.3" x2="84.6" y2="624.1" stroke="#2b2b2b" stroke-width="0.9" />
<text x="84.6" y="634.2" font-size="8.6" text-anchor="middle" fill="#2e2e2e" textLength="4.1" lengthAdjust="spacingAndGlyphs" >0</text>
<line x1="111.39" y1="621.3" x2="111.39" y2="624.1" stroke="#2b2b2b" stroke-width="0.9" />
<text x="111.39" y="634.2" font-size="8.6" text-anchor="middle" fill="#2e2e2e" textLength="4.1" lengthAdjust="spacingAndGlyphs" >3</text>
<line x1="138.18" y1="621.3" x2="138.18" y2="624.1" stroke="#2b2b2b" stroke-width="0.9" />
<text x="138.18" y="634.2" font-size="8.6" text-anchor="middle" fill="#2e2e2e" textLength="4.1" lengthAdjust="spacingAndGlyphs" >6</text>
<line x1="164.97" y1="621.3" x2="164.97" y2="624.1" stroke="#2b2b2b" stroke-width="0.9" />
<text x="164.97" y="634.2" font-size="8.6" text-anchor="middle" fill="#2e2e2e" textLength="4.1" lengthAdjust="spacingAndGlyphs" >9</text>
<line x1="191.76" y1="621.3" x2="191.76" y2="624.1" stroke="#2b2b2b" stroke-width="0.9" />
<text x="191.76" y="634.2" font-size="8.6" text-anchor="middle" fill="#2e2e2e" textLength="8.2" lengthAdjust="spacingAndGlyphs" >12</text>
<line x1="218.55" y1="621.3" x2="218.55" y2="624.1" stroke="#2b2b2b" stroke-width="0.9" />
<text x="218.55" y="634.2" font-size="8.6" text-anchor="middle" fill="#2e2e2e" textLength="8.2" lengthAdjust="spacingAndGlyphs" >15</text>
<line x1="245.34" y1="621.3" x2="245.34" y2="624.1" stroke="#2b2b2b" stroke-width="0.9" />
<text x="245.34" y="634.2" font-size="8.6" text-anchor="middle" fill="#2e2e2e" textLength="8.2" lengthAdjust="spacingAndGlyphs" >18</text>
<line x1="147.11" y1="608" x2="147.11" y2="615" stroke="#111" stroke-width="1.0" />
<line x1="145.41" y1="608" x2="148.81" y2="608" stroke="#111" stroke-width="1.0" />
<line x1="145.41" y1="609.5" x2="148.81" y2="609.5" stroke="#111" stroke-width="1.0" />
<line x1="164.97" y1="590" x2="164.97" y2="608" stroke="#111" stroke-width="1.0" />
<line x1="163.27" y1="590" x2="166.67" y2="590" stroke="#111" stroke-width="1.0" />
<line x1="163.27" y1="598" x2="166.67" y2="598" stroke="#111" stroke-width="1.0" />
<line x1="182.83" y1="581.4" x2="182.83" y2="598.8" stroke="#111" stroke-width="1.0" />
<line x1="181.13" y1="581.4" x2="184.53" y2="581.4" stroke="#111" stroke-width="1.0" />
<line x1="181.13" y1="584.3" x2="184.53" y2="584.3" stroke="#111" stroke-width="1.0" />
<line x1="181.13" y1="593.2" x2="184.53" y2="593.2" stroke="#111" stroke-width="1.0" />
<line x1="182.83" y1="612" x2="182.83" y2="616.5" stroke="#111" stroke-width="1.0" />
<line x1="181.13" y1="612" x2="184.53" y2="612" stroke="#111" stroke-width="1.0" />
<line x1="200.69" y1="557.8" x2="200.69" y2="581.1" stroke="#111" stroke-width="1.0" />
<line x1="198.99" y1="557.8" x2="202.39" y2="557.8" stroke="#111" stroke-width="1.0" />
<line x1="198.99" y1="559.3" x2="202.39" y2="559.3" stroke="#111" stroke-width="1.0" />
<line x1="198.99" y1="563.75" x2="202.39" y2="563.75" stroke="#111" stroke-width="1.0" />
<line x1="227.48" y1="524.5" x2="227.48" y2="566" stroke="#111" stroke-width="1.0" />
<line x1="225.78" y1="524.5" x2="229.18" y2="524.5" stroke="#111" stroke-width="1.0" />
<line x1="225.78" y1="537.7" x2="229.18" y2="537.7" stroke="#111" stroke-width="1.0" />
<line x1="225.78" y1="545.4" x2="229.18" y2="545.4" stroke="#111" stroke-width="1.0" />
<polyline points="84.6,621.3 147.11,615 164.97,615.5 182.83,616.5 200.69,620.5 227.48,620.5" fill="none" stroke="#1e5a96" stroke-width="1.4" stroke-linejoin="round" />
<polyline points="84.6,621.3 147.11,614 164.97,602 182.83,598 200.69,581.3 227.48,562.1" fill="none" stroke="#3cb44a" stroke-width="1.4" stroke-linejoin="round" />
<polyline points="84.6,621.3 147.11,615.5 164.97,608.5 182.83,599.5 200.69,582.5 227.48,569" fill="none" stroke="#55287f" stroke-width="1.4" stroke-linejoin="round" />
<polyline points="84.6,621.3 147.11,615 164.97,608 182.83,598.8 200.69,580.8 227.48,565.8" fill="none" stroke="#d01f36" stroke-width="1.4" stroke-linejoin="round" />
<polygon points="84.6,619.56 83.15,622.46 86.05,622.46" fill="#111"/>
<polygon points="147.11,612.26 145.66,615.16 148.56,615.16" fill="#111"/>
<polygon points="164.97,600.26 163.52,603.16 166.42,603.16" fill="#111"/>
<polygon points="182.83,596.26 181.38,599.16 184.28,599.16" fill="#111"/>
<polygon points="200.69,579.56 199.24,582.46 202.14,582.46" fill="#111"/>
<polygon points="227.48,560.36 226.03,563.26 228.93,563.26" fill="#111"/>
<circle cx="84.6" cy="621.3" r="1.6" fill="#111"/>
<circle cx="147.11" cy="615" r="1.6" fill="#111"/>
<circle cx="164.97" cy="608" r="1.6" fill="#111"/>
<circle cx="182.83" cy="598.8" r="1.6" fill="#111"/>
<circle cx="200.69" cy="580.8" r="1.6" fill="#111"/>
<circle cx="227.48" cy="565.8" r="1.6" fill="#111"/>
<circle cx="84.6" cy="621.3" r="1.3" fill="#111"/>
<circle cx="147.11" cy="615.5" r="1.3" fill="#111"/>
<circle cx="164.97" cy="608.5" r="1.3" fill="#111"/>
<circle cx="182.83" cy="599.5" r="1.3" fill="#111"/>
<circle cx="200.69" cy="582.5" r="1.3" fill="#111"/>
<circle cx="227.48" cy="569" r="1.3" fill="#111"/>
<rect x="83.2" y="619.9" width="2.8" height="2.8" fill="#111"/>
<rect x="145.71" y="613.6" width="2.8" height="2.8" fill="#111"/>
<rect x="163.57" y="614.1" width="2.8" height="2.8" fill="#111"/>
<rect x="181.43" y="615.1" width="2.8" height="2.8" fill="#111"/>
<rect x="199.29" y="619.1" width="2.8" height="2.8" fill="#111"/>
<rect x="226.08" y="619.1" width="2.8" height="2.8" fill="#111"/>
<circle cx="84.6" cy="621.3" r="1.7" fill="#111"/>
<path d="M233.8,566.5 H247.5 V619.5 H235" fill="none" stroke="#333" stroke-width="1.0" stroke-dasharray="1 1"/>
<polygon points="252.8,589.7 253.38,590.5 254.32,590.81 253.74,591.61 253.74,592.59 252.8,592.29 251.86,592.59 251.86,591.61 251.28,590.81 252.22,590.5" fill="#1a1a1a"/>
<polygon points="256.5,589.7 257.08,590.5 258.02,590.81 257.44,591.61 257.44,592.59 256.5,592.29 255.56,592.59 255.56,591.61 254.98,590.81 255.92,590.5" fill="#1a1a1a"/>
<polygon points="260.2,589.7 260.78,590.5 261.72,590.81 261.14,591.61 261.14,592.59 260.2,592.29 259.26,592.59 259.26,591.61 258.68,590.81 259.62,590.5" fill="#1a1a1a"/>
<polygon points="263.9,589.7 264.48,590.5 265.42,590.81 264.84,591.61 264.84,592.59 263.9,592.29 262.96,592.59 262.96,591.61 262.38,590.81 263.32,590.5" fill="#1a1a1a"/>
<line x1="90.8" y1="521.3" x2="102.7" y2="521.3" stroke="#d01f36" stroke-width="1.3" />
<circle cx="96.7" cy="521.3" r="1.5" fill="#111"/>
<text x="105.2" y="524.3" font-size="8.7" fill="#2a2a2a" textLength="23.5" lengthAdjust="spacingAndGlyphs" >WT ctrl</text>
<line x1="90.8" y1="532.3" x2="102.7" y2="532.3" stroke="#1e5a96" stroke-width="1.3" />
<rect x="95.35" y="530.95" width="2.7" height="2.7" fill="#111"/>
<text x="105.2" y="535.3" font-size="8.7" fill="#2a2a2a" textLength="40.5" lengthAdjust="spacingAndGlyphs" >WT crizotinib</text>
<line x1="90.8" y1="542.1" x2="102.7" y2="542.1" stroke="#3cb44a" stroke-width="1.3" />
<polygon points="96.7,540.42 95.3,543.22 98.1,543.22" fill="#111"/>
<text x="105.2" y="545.1" font-size="8.7" fill="#2a2a2a" textLength="45.3" lengthAdjust="spacingAndGlyphs" >PTPN1 KO ctrl</text>
<line x1="90.8" y1="552.1" x2="102.7" y2="552.1" stroke="#55287f" stroke-width="1.3" />
<circle cx="96.7" cy="552.1" r="1.5" fill="#111"/>
<text x="105.2" y="555.1" font-size="8.7" fill="#2a2a2a" textLength="65.4" lengthAdjust="spacingAndGlyphs" >PTPN1 KO crizotinib</text>
<text x="57.9" y="567.1" font-size="10" text-anchor="middle" fill="#333" textLength="70.8" lengthAdjust="spacingAndGlyphs" transform="rotate(-90 57.9 567.1)">Tumor volume (mm<tspan font-size="6.6" dy="-3.6">3</tspan><tspan dy="3.6">)</tspan></text>
<text x="165.4" y="645.3" font-size="9.6" text-anchor="middle" fill="#333" textLength="15.5" lengthAdjust="spacingAndGlyphs" >Days</text>
<line x1="326.3" y1="513.8" x2="326.3" y2="620.8" stroke="#2b2b2b" stroke-width="1.0" />
<line x1="326.3" y1="620.8" x2="489.5" y2="620.8" stroke="#2b2b2b" stroke-width="1.0" />
<line x1="323.3" y1="620.8" x2="326.3" y2="620.8" stroke="#2b2b2b" stroke-width="0.9" />
<text x="319.7" y="623.8" font-size="8.6" text-anchor="end" fill="#2e2e2e" textLength="4.1" lengthAdjust="spacingAndGlyphs" >0</text>
<line x1="323.3" y1="594.01" x2="326.3" y2="594.01" stroke="#2b2b2b" stroke-width="0.9" />
<text x="319.7" y="597.01" font-size="8.6" text-anchor="end" fill="#2e2e2e" textLength="12.3" lengthAdjust="spacingAndGlyphs" >300</text>
<line x1="323.3" y1="567.22" x2="326.3" y2="567.22" stroke="#2b2b2b" stroke-width="0.9" />
<text x="319.7" y="570.22" font-size="8.6" text-anchor="end" fill="#2e2e2e" textLength="12.3" lengthAdjust="spacingAndGlyphs" >600</text>
<line x1="323.3" y1="540.43" x2="326.3" y2="540.43" stroke="#2b2b2b" stroke-width="0.9" />
<text x="319.7" y="543.43" font-size="8.6" text-anchor="end" fill="#2e2e2e" textLength="12.3" lengthAdjust="spacingAndGlyphs" >900</text>
<line x1="323.3" y1="513.64" x2="326.3" y2="513.64" stroke="#2b2b2b" stroke-width="0.9" />
<text x="319.7" y="516.64" font-size="8.6" text-anchor="end" fill="#2e2e2e" textLength="16.4" lengthAdjust="spacingAndGlyphs" >1200</text>
<line x1="326.3" y1="620.8" x2="326.3" y2="623.6" stroke="#2b2b2b" stroke-width="0.9" />
<text x="326.3" y="633.7" font-size="8.6" text-anchor="middle" fill="#2e2e2e" textLength="4.1" lengthAdjust="spacingAndGlyphs" >0</text>
<line x1="353.48" y1="620.8" x2="353.48" y2="623.6" stroke="#2b2b2b" stroke-width="0.9" />
<text x="353.48" y="633.7" font-size="8.6" text-anchor="middle" fill="#2e2e2e" textLength="4.1" lengthAdjust="spacingAndGlyphs" >3</text>
<line x1="380.66" y1="620.8" x2="380.66" y2="623.6" stroke="#2b2b2b" stroke-width="0.9" />
<text x="380.66" y="633.7" font-size="8.6" text-anchor="middle" fill="#2e2e2e" textLength="4.1" lengthAdjust="spacingAndGlyphs" >6</text>
<line x1="407.84" y1="620.8" x2="407.84" y2="623.6" stroke="#2b2b2b" stroke-width="0.9" />
<text x="407.84" y="633.7" font-size="8.6" text-anchor="middle" fill="#2e2e2e" textLength="4.1" lengthAdjust="spacingAndGlyphs" >9</text>
<line x1="435.02" y1="620.8" x2="435.02" y2="623.6" stroke="#2b2b2b" stroke-width="0.9" />
<text x="435.02" y="633.7" font-size="8.6" text-anchor="middle" fill="#2e2e2e" textLength="8.2" lengthAdjust="spacingAndGlyphs" >12</text>
<line x1="462.2" y1="620.8" x2="462.2" y2="623.6" stroke="#2b2b2b" stroke-width="0.9" />
<text x="462.2" y="633.7" font-size="8.6" text-anchor="middle" fill="#2e2e2e" textLength="8.2" lengthAdjust="spacingAndGlyphs" >15</text>
<line x1="489.38" y1="620.8" x2="489.38" y2="623.6" stroke="#2b2b2b" stroke-width="0.9" />
<text x="489.38" y="633.7" font-size="8.6" text-anchor="middle" fill="#2e2e2e" textLength="8.2" lengthAdjust="spacingAndGlyphs" >18</text>
<line x1="389.72" y1="608.8" x2="389.72" y2="619" stroke="#111" stroke-width="1.0" />
<line x1="388.02" y1="608.8" x2="391.42" y2="608.8" stroke="#111" stroke-width="1.0" />
<line x1="388.02" y1="610.4" x2="391.42" y2="610.4" stroke="#111" stroke-width="1.0" />
<line x1="407.84" y1="602.7" x2="407.84" y2="614" stroke="#111" stroke-width="1.0" />
<line x1="406.14" y1="602.7" x2="409.54" y2="602.7" stroke="#111" stroke-width="1.0" />
<line x1="406.14" y1="605" x2="409.54" y2="605" stroke="#111" stroke-width="1.0" />
<line x1="425.96" y1="592.7" x2="425.96" y2="611.3" stroke="#111" stroke-width="1.0" />
<line x1="424.26" y1="592.7" x2="427.66" y2="592.7" stroke="#111" stroke-width="1.0" />
<line x1="424.26" y1="602.3" x2="427.66" y2="602.3" stroke="#111" stroke-width="1.0" />
<line x1="444.08" y1="563.8" x2="444.08" y2="580.6" stroke="#111" stroke-width="1.0" />
<line x1="442.38" y1="563.8" x2="445.78" y2="563.8" stroke="#111" stroke-width="1.0" />
<line x1="444.08" y1="588.8" x2="444.08" y2="604.6" stroke="#111" stroke-width="1.0" />
<line x1="442.38" y1="588.8" x2="445.78" y2="588.8" stroke="#111" stroke-width="1.0" />
<line x1="471.26" y1="526.7" x2="471.26" y2="565.8" stroke="#111" stroke-width="1.0" />
<line x1="469.56" y1="526.7" x2="472.96" y2="526.7" stroke="#111" stroke-width="1.0" />
<line x1="469.56" y1="543.5" x2="472.96" y2="543.5" stroke="#111" stroke-width="1.0" />
<line x1="469.56" y1="546" x2="472.96" y2="546" stroke="#111" stroke-width="1.0" />
<polyline points="326.3,620.8 389.72,615.2 407.84,614.8 425.96,616.5 444.08,620.5 471.26,620.5" fill="none" stroke="#1e5a96" stroke-width="1.4" stroke-linejoin="round" />
<polyline points="326.3,620.8 389.72,618 407.84,612 425.96,609.4 444.08,604.6 471.26,565.8" fill="none" stroke="#1e6e5a" stroke-width="1.4" stroke-linejoin="round" />
<polyline points="326.3,620.8 389.72,619 407.84,613.3 425.96,609.4 444.08,601.2 471.26,561.9" fill="none" stroke="#f39a1e" stroke-width="1.4" stroke-linejoin="round" />
<polyline points="326.3,620.8 389.72,615.2 407.84,608 425.96,598.3 444.08,580.6 471.26,565.8" fill="none" stroke="#d01f36" stroke-width="1.4" stroke-linejoin="round" />
<polygon points="326.3,619.06 324.85,621.96 327.75,621.96" fill="#111"/>
<polygon points="389.72,617.26 388.27,620.16 391.17,620.16" fill="#111"/>
<polygon points="407.84,611.56 406.39,614.46 409.29,614.46" fill="#111"/>
<polygon points="425.96,607.66 424.51,610.56 427.41,610.56" fill="#111"/>
<polygon points="444.08,599.46 442.63,602.36 445.53,602.36" fill="#111"/>
<polygon points="471.26,560.16 469.81,563.06 472.71,563.06" fill="#111"/>
<circle cx="326.3" cy="620.8" r="1.35" fill="#111"/>
<circle cx="389.72" cy="618" r="1.35" fill="#111"/>
<circle cx="407.84" cy="612" r="1.35" fill="#111"/>
<circle cx="425.96" cy="609.4" r="1.35" fill="#111"/>
<circle cx="444.08" cy="604.6" r="1.35" fill="#111"/>
<circle cx="471.26" cy="565.8" r="1.35" fill="#111"/>
<circle cx="326.3" cy="620.8" r="1.6" fill="#111"/>
<circle cx="389.72" cy="615.2" r="1.6" fill="#111"/>
<circle cx="407.84" cy="608" r="1.6" fill="#111"/>
<circle cx="425.96" cy="598.3" r="1.6" fill="#111"/>
<circle cx="444.08" cy="580.6" r="1.6" fill="#111"/>
<circle cx="471.26" cy="565.8" r="1.6" fill="#111"/>
<rect x="324.9" y="619.4" width="2.8" height="2.8" fill="#111"/>
<rect x="388.32" y="613.8" width="2.8" height="2.8" fill="#111"/>
<rect x="406.44" y="613.4" width="2.8" height="2.8" fill="#111"/>
<rect x="424.56" y="615.1" width="2.8" height="2.8" fill="#111"/>
<rect x="442.68" y="619.1" width="2.8" height="2.8" fill="#111"/>
<rect x="469.86" y="619.1" width="2.8" height="2.8" fill="#111"/>
<circle cx="326.3" cy="620.8" r="1.7" fill="#111"/>
<path d="M476.3,566.5 H491.5 V619.5 H478" fill="none" stroke="#333" stroke-width="1.0" stroke-dasharray="1 1"/>
<polygon points="497.4,589.7 497.98,590.5 498.92,590.81 498.34,591.61 498.34,592.59 497.4,592.29 496.46,592.59 496.46,591.61 495.88,590.81 496.82,590.5" fill="#1a1a1a"/>
<polygon points="501.1,589.7 501.68,590.5 502.62,590.81 502.04,591.61 502.04,592.59 501.1,592.29 500.16,592.59 500.16,591.61 499.58,590.81 500.52,590.5" fill="#1a1a1a"/>
<polygon points="504.8,589.7 505.38,590.5 506.32,590.81 505.74,591.61 505.74,592.59 504.8,592.29 503.86,592.59 503.86,591.61 503.28,590.81 504.22,590.5" fill="#1a1a1a"/>
<polygon points="508.5,589.7 509.08,590.5 510.02,590.81 509.44,591.61 509.44,592.59 508.5,592.29 507.56,592.59 507.56,591.61 506.98,590.81 507.92,590.5" fill="#1a1a1a"/>
<line x1="333.5" y1="520.6" x2="345" y2="520.6" stroke="#d01f36" stroke-width="1.3" />
<circle cx="339.2" cy="520.6" r="1.5" fill="#111"/>
<text x="347.9" y="523.6" font-size="8.7" fill="#2a2a2a" textLength="23.5" lengthAdjust="spacingAndGlyphs" >WT ctrl</text>
<line x1="333.5" y1="531.3" x2="345" y2="531.3" stroke="#1e5a96" stroke-width="1.3" />
<rect x="337.85" y="529.95" width="2.7" height="2.7" fill="#111"/>
<text x="347.9" y="534.3" font-size="8.7" fill="#2a2a2a" textLength="40.5" lengthAdjust="spacingAndGlyphs" >WT crizotinib</text>
<line x1="333.5" y1="541.7" x2="345" y2="541.7" stroke="#f39a1e" stroke-width="1.3" />
<polygon points="339.2,540.02 337.8,542.82 340.6,542.82" fill="#111"/>
<text x="347.9" y="544.7" font-size="8.7" fill="#2a2a2a" textLength="45.3" lengthAdjust="spacingAndGlyphs" >PTPN2 KO ctrl</text>
<line x1="333.5" y1="551.5" x2="345" y2="551.5" stroke="#1e6e5a" stroke-width="1.3" />
<circle cx="339.2" cy="551.5" r="1.5" fill="#111"/>
<text x="347.9" y="554.5" font-size="8.7" fill="#2a2a2a" textLength="65.4" lengthAdjust="spacingAndGlyphs" >PTPN2 KO crizotinib</text>
<text x="299.9" y="567.1" font-size="10" text-anchor="middle" fill="#333" textLength="70.8" lengthAdjust="spacingAndGlyphs" transform="rotate(-90 299.9 567.1)">Tumor volume (mm<tspan font-size="6.6" dy="-3.6">3</tspan><tspan dy="3.6">)</tspan></text>
<text x="407.8" y="645.3" font-size="9.6" text-anchor="middle" fill="#333" textLength="15.5" lengthAdjust="spacingAndGlyphs" >Days</text>
</svg></body></html>
